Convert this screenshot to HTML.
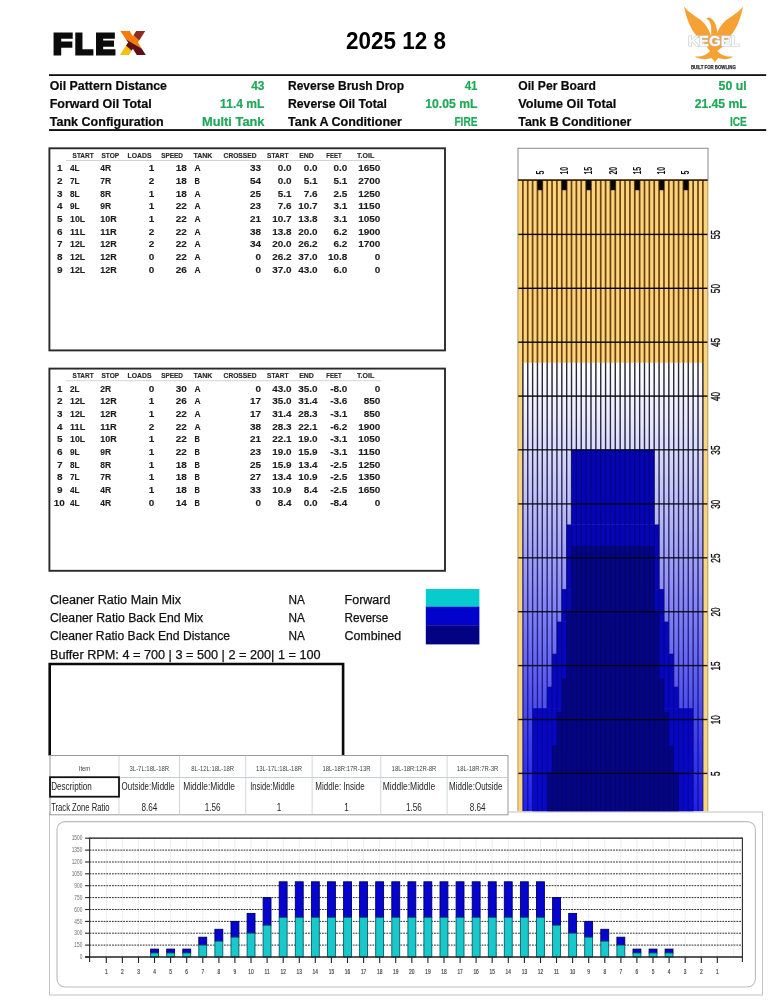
<!DOCTYPE html>
<html lang="en"><head><meta charset="utf-8"><title>FLEX Oil Pattern 2025 12 8</title>
<style>html,body{margin:0;padding:0;background:#fff;}body{width:772px;height:1000px;overflow:hidden;font-family:"Liberation Sans", sans-serif;}svg{display:block}</style>
</head><body>
<svg width="772" height="1000" viewBox="0 0 772 1000" font-family='"Liberation Sans", sans-serif'>
<rect width="772" height="1000" fill="#fff"/>
<defs><pattern id="xp" patternUnits="userSpaceOnUse" x="0" y="0" width="772" height="100"><rect x="110" y="20" width="50" height="50" fill="#5e0f1a"/><polygon points="110,20 160,20 160,59.2 110,30.2" fill="#f57c08"/><polygon points="128,30 150,30 150,43.3 142.5,43.3" fill="#8e2b22"/><polygon points="116,43.1 123.1,43.1 137.8,56 116,56" fill="#f6be12"/></pattern></defs>
<text font-size="30" font-weight="bold" fill="#0c0c0c" stroke="#0c0c0c" stroke-width="2.96" stroke-linejoin="miter"><tspan x="53.07" y="53.57" textLength="19.31" lengthAdjust="spacingAndGlyphs">F</tspan><tspan x="74.69" y="53.57" textLength="18.14" lengthAdjust="spacingAndGlyphs">L</tspan><tspan x="95.41" y="53.57" textLength="19.67" lengthAdjust="spacingAndGlyphs">E</tspan><tspan x="123.2" y="53.1" font-size="29.2" fill="url(#xp)" stroke="url(#xp)" stroke-width="4" textLength="19.2" lengthAdjust="spacingAndGlyphs">X</tspan></text>
<text x="396" y="49.2" font-size="23" font-weight="bold" fill="#000" text-anchor="middle" textLength="99.8" lengthAdjust="spacingAndGlyphs" >2025 12 8</text>
<rect x="49" y="74.2" width="717.2" height="1.8" fill="#111"/>
<rect x="49" y="129.1" width="717.2" height="1.9" fill="#111"/>
<text x="49.7" y="90.2" font-size="12.4" font-weight="bold" fill="#0a0a0a" stroke="#0a0a0a" stroke-width="0.2" textLength="117.3" lengthAdjust="spacingAndGlyphs">Oil Pattern Distance</text>
<text x="251.2" y="90.2" font-size="12.4" font-weight="bold" fill="#1fa857" stroke="#1fa857" stroke-width="0.2" textLength="13.3" lengthAdjust="spacingAndGlyphs">43</text>
<text x="288" y="90.2" font-size="12.4" font-weight="bold" fill="#0a0a0a" stroke="#0a0a0a" stroke-width="0.2" textLength="116" lengthAdjust="spacingAndGlyphs">Reverse Brush Drop</text>
<text x="464.7" y="90.2" font-size="12.4" font-weight="bold" fill="#1fa857" stroke="#1fa857" stroke-width="0.2" textLength="12.8" lengthAdjust="spacingAndGlyphs">41</text>
<text x="518.3" y="90.2" font-size="12.4" font-weight="bold" fill="#0a0a0a" stroke="#0a0a0a" stroke-width="0.2" textLength="77.5" lengthAdjust="spacingAndGlyphs">Oil Per Board</text>
<text x="718.6" y="90.2" font-size="12.4" font-weight="bold" fill="#1fa857" stroke="#1fa857" stroke-width="0.2" textLength="28.2" lengthAdjust="spacingAndGlyphs">50 ul</text>
<text x="49.7" y="108.3" font-size="12.4" font-weight="bold" fill="#0a0a0a" stroke="#0a0a0a" stroke-width="0.2" textLength="102" lengthAdjust="spacingAndGlyphs">Forward Oil Total</text>
<text x="220.1" y="108.3" font-size="12.4" font-weight="bold" fill="#1fa857" stroke="#1fa857" stroke-width="0.2" textLength="44.4" lengthAdjust="spacingAndGlyphs">11.4 mL</text>
<text x="288" y="108.3" font-size="12.4" font-weight="bold" fill="#0a0a0a" stroke="#0a0a0a" stroke-width="0.2" textLength="98.9" lengthAdjust="spacingAndGlyphs">Reverse Oil Total</text>
<text x="425.3" y="108.3" font-size="12.4" font-weight="bold" fill="#1fa857" stroke="#1fa857" stroke-width="0.2" textLength="52.2" lengthAdjust="spacingAndGlyphs">10.05 mL</text>
<text x="518.3" y="108.3" font-size="12.4" font-weight="bold" fill="#0a0a0a" stroke="#0a0a0a" stroke-width="0.2" textLength="98" lengthAdjust="spacingAndGlyphs">Volume Oil Total</text>
<text x="694.7" y="108.3" font-size="12.4" font-weight="bold" fill="#1fa857" stroke="#1fa857" stroke-width="0.2" textLength="52.1" lengthAdjust="spacingAndGlyphs">21.45 mL</text>
<text x="49.7" y="126.1" font-size="12.4" font-weight="bold" fill="#0a0a0a" stroke="#0a0a0a" stroke-width="0.2" textLength="114" lengthAdjust="spacingAndGlyphs">Tank Configuration</text>
<text x="202.0" y="126.1" font-size="12.4" font-weight="bold" fill="#1fa857" stroke="#1fa857" stroke-width="0.2" textLength="62.5" lengthAdjust="spacingAndGlyphs">Multi Tank</text>
<text x="288" y="126.1" font-size="12.4" font-weight="bold" fill="#0a0a0a" stroke="#0a0a0a" stroke-width="0.2" textLength="114" lengthAdjust="spacingAndGlyphs">Tank A Conditioner</text>
<text x="454.4" y="126.1" font-size="12.4" font-weight="bold" fill="#1fa857" stroke="#1fa857" stroke-width="0.2" textLength="23.1" lengthAdjust="spacingAndGlyphs">FIRE</text>
<text x="518.3" y="126.1" font-size="12.4" font-weight="bold" fill="#0a0a0a" stroke="#0a0a0a" stroke-width="0.2" textLength="113.1" lengthAdjust="spacingAndGlyphs">Tank B Conditioner</text>
<text x="729.9" y="126.1" font-size="12.4" font-weight="bold" fill="#1fa857" stroke="#1fa857" stroke-width="0.2" textLength="16.9" lengthAdjust="spacingAndGlyphs">ICE</text>
<g transform="translate(680,0) scale(0.09066)">
<path d="M45,72 C75,115 150,170 205,203 C262,240 312,300 340,390 L178,390 C118,320 68,200 45,72 Z" fill="#f5a133"/>
<path d="M695,72 C665,115 590,170 535,203 C478,240 428,300 400,390 L562,390 C622,320 672,200 695,72 Z" fill="#f5a133"/>
<path d="M288,207 C300,193 332,188 352,212 C388,240 407,290 416,390 L344,390 C346,330 346,292 336,264 C330,236 314,216 288,207 Z" fill="#f5a133"/>
<path d="M178,388 L562,388 C520,440 490,480 470,512 C445,540 410,553 415,565 C455,610 530,635 582,620 C550,662 470,657 425,641 C405,655 392,675 385,694 C378,675 365,655 345,641 C300,657 220,662 163,620 C220,635 290,610 330,565 C335,553 300,540 300,512 C270,480 230,440 178,388 Z" fill="#f5a133"/>
</g>
<text x="687.9" y="46.2" font-size="14.5" font-weight="bold" fill="#fbfbfb" stroke="#c3c9cf" stroke-width="1.1" paint-order="stroke" textLength="52.2" lengthAdjust="spacingAndGlyphs">KEGEL</text>
<text x="690.9" y="68.5" font-size="5.3" font-weight="bold" fill="#2b2b33" stroke="#2b2b33" stroke-width="0.25" textLength="44.9" lengthAdjust="spacingAndGlyphs">BUILT FOR BOWLING</text>
<rect x="49.4" y="148.3" width="395.6" height="202.09999999999997" fill="#fff" stroke="#2a2a2a" stroke-width="1.9"/>
<text x="72.6" y="157.50" font-size="6.7" font-weight="bold" fill="#2a2a2a" stroke="#2a2a2a" stroke-width="0.15" textLength="21.0" lengthAdjust="spacingAndGlyphs">START</text>
<text x="101.4" y="157.50" font-size="6.7" font-weight="bold" fill="#2a2a2a" stroke="#2a2a2a" stroke-width="0.15" textLength="17.8" lengthAdjust="spacingAndGlyphs">STOP</text>
<text x="127.5" y="157.50" font-size="6.7" font-weight="bold" fill="#2a2a2a" stroke="#2a2a2a" stroke-width="0.15" textLength="24.0" lengthAdjust="spacingAndGlyphs">LOADS</text>
<text x="161.2" y="157.50" font-size="6.7" font-weight="bold" fill="#2a2a2a" stroke="#2a2a2a" stroke-width="0.15" textLength="21.8" lengthAdjust="spacingAndGlyphs">SPEED</text>
<text x="193.4" y="157.50" font-size="6.7" font-weight="bold" fill="#2a2a2a" stroke="#2a2a2a" stroke-width="0.15" textLength="19.0" lengthAdjust="spacingAndGlyphs">TANK</text>
<text x="223.6" y="157.50" font-size="6.7" font-weight="bold" fill="#2a2a2a" stroke="#2a2a2a" stroke-width="0.15" textLength="32.9" lengthAdjust="spacingAndGlyphs">CROSSED</text>
<text x="267" y="157.50" font-size="6.7" font-weight="bold" fill="#2a2a2a" stroke="#2a2a2a" stroke-width="0.15" textLength="21.5" lengthAdjust="spacingAndGlyphs">START</text>
<text x="299.2" y="157.50" font-size="6.7" font-weight="bold" fill="#2a2a2a" stroke="#2a2a2a" stroke-width="0.15" textLength="14.7" lengthAdjust="spacingAndGlyphs">END</text>
<text x="326.3" y="157.50" font-size="6.7" font-weight="bold" fill="#2a2a2a" stroke="#2a2a2a" stroke-width="0.15" textLength="15.4" lengthAdjust="spacingAndGlyphs">FEET</text>
<text x="357" y="157.50" font-size="6.7" font-weight="bold" fill="#2a2a2a" stroke="#2a2a2a" stroke-width="0.15" textLength="17.2" lengthAdjust="spacingAndGlyphs">T.OIL</text>
<rect x="66" y="160.0" width="315" height="0.9" fill="#cfcfcf"/>
<text x="57.05" y="171.40" font-size="8.7" font-weight="bold" fill="#1c1c1c" stroke="#1c1c1c" stroke-width="0.12" textLength="5.55" lengthAdjust="spacingAndGlyphs">1</text>
<text x="70.00" y="171.40" font-size="8.7" font-weight="bold" fill="#1c1c1c" stroke="#1c1c1c" stroke-width="0.12" textLength="9.65" lengthAdjust="spacingAndGlyphs">4L</text>
<text x="100.30" y="171.40" font-size="8.7" font-weight="bold" fill="#1c1c1c" stroke="#1c1c1c" stroke-width="0.12" textLength="10.85" lengthAdjust="spacingAndGlyphs">4R</text>
<text x="148.75" y="171.40" font-size="8.7" font-weight="bold" fill="#1c1c1c" stroke="#1c1c1c" stroke-width="0.12" textLength="5.55" lengthAdjust="spacingAndGlyphs">1</text>
<text x="175.70" y="171.40" font-size="8.7" font-weight="bold" fill="#1c1c1c" stroke="#1c1c1c" stroke-width="0.12" textLength="11.10" lengthAdjust="spacingAndGlyphs">18</text>
<text x="194.40" y="171.40" font-size="8.7" font-weight="bold" fill="#1c1c1c" stroke="#1c1c1c" stroke-width="0.12" textLength="6.10" lengthAdjust="spacingAndGlyphs">A</text>
<text x="249.90" y="171.40" font-size="8.7" font-weight="bold" fill="#1c1c1c" stroke="#1c1c1c" stroke-width="0.12" textLength="11.10" lengthAdjust="spacingAndGlyphs">33</text>
<text x="277.80" y="171.40" font-size="8.7" font-weight="bold" fill="#1c1c1c" stroke="#1c1c1c" stroke-width="0.12" textLength="13.80" lengthAdjust="spacingAndGlyphs">0.0</text>
<text x="303.70" y="171.40" font-size="8.7" font-weight="bold" fill="#1c1c1c" stroke="#1c1c1c" stroke-width="0.12" textLength="13.80" lengthAdjust="spacingAndGlyphs">0.0</text>
<text x="333.60" y="171.40" font-size="8.7" font-weight="bold" fill="#1c1c1c" stroke="#1c1c1c" stroke-width="0.12" textLength="13.80" lengthAdjust="spacingAndGlyphs">0.0</text>
<text x="358.20" y="171.40" font-size="8.7" font-weight="bold" fill="#1c1c1c" stroke="#1c1c1c" stroke-width="0.12" textLength="22.20" lengthAdjust="spacingAndGlyphs">1650</text>
<text x="57.05" y="184.08" font-size="8.7" font-weight="bold" fill="#1c1c1c" stroke="#1c1c1c" stroke-width="0.12" textLength="5.55" lengthAdjust="spacingAndGlyphs">2</text>
<text x="70.00" y="184.08" font-size="8.7" font-weight="bold" fill="#1c1c1c" stroke="#1c1c1c" stroke-width="0.12" textLength="9.65" lengthAdjust="spacingAndGlyphs">7L</text>
<text x="100.30" y="184.08" font-size="8.7" font-weight="bold" fill="#1c1c1c" stroke="#1c1c1c" stroke-width="0.12" textLength="10.85" lengthAdjust="spacingAndGlyphs">7R</text>
<text x="148.75" y="184.08" font-size="8.7" font-weight="bold" fill="#1c1c1c" stroke="#1c1c1c" stroke-width="0.12" textLength="5.55" lengthAdjust="spacingAndGlyphs">2</text>
<text x="175.70" y="184.08" font-size="8.7" font-weight="bold" fill="#1c1c1c" stroke="#1c1c1c" stroke-width="0.12" textLength="11.10" lengthAdjust="spacingAndGlyphs">18</text>
<text x="194.40" y="184.08" font-size="8.7" font-weight="bold" fill="#1c1c1c" stroke="#1c1c1c" stroke-width="0.12" textLength="5.40" lengthAdjust="spacingAndGlyphs">B</text>
<text x="249.90" y="184.08" font-size="8.7" font-weight="bold" fill="#1c1c1c" stroke="#1c1c1c" stroke-width="0.12" textLength="11.10" lengthAdjust="spacingAndGlyphs">54</text>
<text x="277.80" y="184.08" font-size="8.7" font-weight="bold" fill="#1c1c1c" stroke="#1c1c1c" stroke-width="0.12" textLength="13.80" lengthAdjust="spacingAndGlyphs">0.0</text>
<text x="303.70" y="184.08" font-size="8.7" font-weight="bold" fill="#1c1c1c" stroke="#1c1c1c" stroke-width="0.12" textLength="13.80" lengthAdjust="spacingAndGlyphs">5.1</text>
<text x="333.60" y="184.08" font-size="8.7" font-weight="bold" fill="#1c1c1c" stroke="#1c1c1c" stroke-width="0.12" textLength="13.80" lengthAdjust="spacingAndGlyphs">5.1</text>
<text x="358.20" y="184.08" font-size="8.7" font-weight="bold" fill="#1c1c1c" stroke="#1c1c1c" stroke-width="0.12" textLength="22.20" lengthAdjust="spacingAndGlyphs">2700</text>
<text x="57.05" y="196.76" font-size="8.7" font-weight="bold" fill="#1c1c1c" stroke="#1c1c1c" stroke-width="0.12" textLength="5.55" lengthAdjust="spacingAndGlyphs">3</text>
<text x="70.00" y="196.76" font-size="8.7" font-weight="bold" fill="#1c1c1c" stroke="#1c1c1c" stroke-width="0.12" textLength="9.65" lengthAdjust="spacingAndGlyphs">8L</text>
<text x="100.30" y="196.76" font-size="8.7" font-weight="bold" fill="#1c1c1c" stroke="#1c1c1c" stroke-width="0.12" textLength="10.85" lengthAdjust="spacingAndGlyphs">8R</text>
<text x="148.75" y="196.76" font-size="8.7" font-weight="bold" fill="#1c1c1c" stroke="#1c1c1c" stroke-width="0.12" textLength="5.55" lengthAdjust="spacingAndGlyphs">1</text>
<text x="175.70" y="196.76" font-size="8.7" font-weight="bold" fill="#1c1c1c" stroke="#1c1c1c" stroke-width="0.12" textLength="11.10" lengthAdjust="spacingAndGlyphs">18</text>
<text x="194.40" y="196.76" font-size="8.7" font-weight="bold" fill="#1c1c1c" stroke="#1c1c1c" stroke-width="0.12" textLength="6.10" lengthAdjust="spacingAndGlyphs">A</text>
<text x="249.90" y="196.76" font-size="8.7" font-weight="bold" fill="#1c1c1c" stroke="#1c1c1c" stroke-width="0.12" textLength="11.10" lengthAdjust="spacingAndGlyphs">25</text>
<text x="277.80" y="196.76" font-size="8.7" font-weight="bold" fill="#1c1c1c" stroke="#1c1c1c" stroke-width="0.12" textLength="13.80" lengthAdjust="spacingAndGlyphs">5.1</text>
<text x="303.70" y="196.76" font-size="8.7" font-weight="bold" fill="#1c1c1c" stroke="#1c1c1c" stroke-width="0.12" textLength="13.80" lengthAdjust="spacingAndGlyphs">7.6</text>
<text x="333.60" y="196.76" font-size="8.7" font-weight="bold" fill="#1c1c1c" stroke="#1c1c1c" stroke-width="0.12" textLength="13.80" lengthAdjust="spacingAndGlyphs">2.5</text>
<text x="358.20" y="196.76" font-size="8.7" font-weight="bold" fill="#1c1c1c" stroke="#1c1c1c" stroke-width="0.12" textLength="22.20" lengthAdjust="spacingAndGlyphs">1250</text>
<text x="57.05" y="209.44" font-size="8.7" font-weight="bold" fill="#1c1c1c" stroke="#1c1c1c" stroke-width="0.12" textLength="5.55" lengthAdjust="spacingAndGlyphs">4</text>
<text x="70.00" y="209.44" font-size="8.7" font-weight="bold" fill="#1c1c1c" stroke="#1c1c1c" stroke-width="0.12" textLength="9.65" lengthAdjust="spacingAndGlyphs">9L</text>
<text x="100.30" y="209.44" font-size="8.7" font-weight="bold" fill="#1c1c1c" stroke="#1c1c1c" stroke-width="0.12" textLength="10.85" lengthAdjust="spacingAndGlyphs">9R</text>
<text x="148.75" y="209.44" font-size="8.7" font-weight="bold" fill="#1c1c1c" stroke="#1c1c1c" stroke-width="0.12" textLength="5.55" lengthAdjust="spacingAndGlyphs">1</text>
<text x="175.70" y="209.44" font-size="8.7" font-weight="bold" fill="#1c1c1c" stroke="#1c1c1c" stroke-width="0.12" textLength="11.10" lengthAdjust="spacingAndGlyphs">22</text>
<text x="194.40" y="209.44" font-size="8.7" font-weight="bold" fill="#1c1c1c" stroke="#1c1c1c" stroke-width="0.12" textLength="6.10" lengthAdjust="spacingAndGlyphs">A</text>
<text x="249.90" y="209.44" font-size="8.7" font-weight="bold" fill="#1c1c1c" stroke="#1c1c1c" stroke-width="0.12" textLength="11.10" lengthAdjust="spacingAndGlyphs">23</text>
<text x="277.80" y="209.44" font-size="8.7" font-weight="bold" fill="#1c1c1c" stroke="#1c1c1c" stroke-width="0.12" textLength="13.80" lengthAdjust="spacingAndGlyphs">7.6</text>
<text x="298.15" y="209.44" font-size="8.7" font-weight="bold" fill="#1c1c1c" stroke="#1c1c1c" stroke-width="0.12" textLength="19.35" lengthAdjust="spacingAndGlyphs">10.7</text>
<text x="333.60" y="209.44" font-size="8.7" font-weight="bold" fill="#1c1c1c" stroke="#1c1c1c" stroke-width="0.12" textLength="13.80" lengthAdjust="spacingAndGlyphs">3.1</text>
<text x="358.20" y="209.44" font-size="8.7" font-weight="bold" fill="#1c1c1c" stroke="#1c1c1c" stroke-width="0.12" textLength="22.20" lengthAdjust="spacingAndGlyphs">1150</text>
<text x="57.05" y="222.12" font-size="8.7" font-weight="bold" fill="#1c1c1c" stroke="#1c1c1c" stroke-width="0.12" textLength="5.55" lengthAdjust="spacingAndGlyphs">5</text>
<text x="70.00" y="222.12" font-size="8.7" font-weight="bold" fill="#1c1c1c" stroke="#1c1c1c" stroke-width="0.12" textLength="15.20" lengthAdjust="spacingAndGlyphs">10L</text>
<text x="100.30" y="222.12" font-size="8.7" font-weight="bold" fill="#1c1c1c" stroke="#1c1c1c" stroke-width="0.12" textLength="16.40" lengthAdjust="spacingAndGlyphs">10R</text>
<text x="148.75" y="222.12" font-size="8.7" font-weight="bold" fill="#1c1c1c" stroke="#1c1c1c" stroke-width="0.12" textLength="5.55" lengthAdjust="spacingAndGlyphs">1</text>
<text x="175.70" y="222.12" font-size="8.7" font-weight="bold" fill="#1c1c1c" stroke="#1c1c1c" stroke-width="0.12" textLength="11.10" lengthAdjust="spacingAndGlyphs">22</text>
<text x="194.40" y="222.12" font-size="8.7" font-weight="bold" fill="#1c1c1c" stroke="#1c1c1c" stroke-width="0.12" textLength="6.10" lengthAdjust="spacingAndGlyphs">A</text>
<text x="249.90" y="222.12" font-size="8.7" font-weight="bold" fill="#1c1c1c" stroke="#1c1c1c" stroke-width="0.12" textLength="11.10" lengthAdjust="spacingAndGlyphs">21</text>
<text x="272.25" y="222.12" font-size="8.7" font-weight="bold" fill="#1c1c1c" stroke="#1c1c1c" stroke-width="0.12" textLength="19.35" lengthAdjust="spacingAndGlyphs">10.7</text>
<text x="298.15" y="222.12" font-size="8.7" font-weight="bold" fill="#1c1c1c" stroke="#1c1c1c" stroke-width="0.12" textLength="19.35" lengthAdjust="spacingAndGlyphs">13.8</text>
<text x="333.60" y="222.12" font-size="8.7" font-weight="bold" fill="#1c1c1c" stroke="#1c1c1c" stroke-width="0.12" textLength="13.80" lengthAdjust="spacingAndGlyphs">3.1</text>
<text x="358.20" y="222.12" font-size="8.7" font-weight="bold" fill="#1c1c1c" stroke="#1c1c1c" stroke-width="0.12" textLength="22.20" lengthAdjust="spacingAndGlyphs">1050</text>
<text x="57.05" y="234.80" font-size="8.7" font-weight="bold" fill="#1c1c1c" stroke="#1c1c1c" stroke-width="0.12" textLength="5.55" lengthAdjust="spacingAndGlyphs">6</text>
<text x="70.00" y="234.80" font-size="8.7" font-weight="bold" fill="#1c1c1c" stroke="#1c1c1c" stroke-width="0.12" textLength="15.20" lengthAdjust="spacingAndGlyphs">11L</text>
<text x="100.30" y="234.80" font-size="8.7" font-weight="bold" fill="#1c1c1c" stroke="#1c1c1c" stroke-width="0.12" textLength="16.40" lengthAdjust="spacingAndGlyphs">11R</text>
<text x="148.75" y="234.80" font-size="8.7" font-weight="bold" fill="#1c1c1c" stroke="#1c1c1c" stroke-width="0.12" textLength="5.55" lengthAdjust="spacingAndGlyphs">2</text>
<text x="175.70" y="234.80" font-size="8.7" font-weight="bold" fill="#1c1c1c" stroke="#1c1c1c" stroke-width="0.12" textLength="11.10" lengthAdjust="spacingAndGlyphs">22</text>
<text x="194.40" y="234.80" font-size="8.7" font-weight="bold" fill="#1c1c1c" stroke="#1c1c1c" stroke-width="0.12" textLength="6.10" lengthAdjust="spacingAndGlyphs">A</text>
<text x="249.90" y="234.80" font-size="8.7" font-weight="bold" fill="#1c1c1c" stroke="#1c1c1c" stroke-width="0.12" textLength="11.10" lengthAdjust="spacingAndGlyphs">38</text>
<text x="272.25" y="234.80" font-size="8.7" font-weight="bold" fill="#1c1c1c" stroke="#1c1c1c" stroke-width="0.12" textLength="19.35" lengthAdjust="spacingAndGlyphs">13.8</text>
<text x="298.15" y="234.80" font-size="8.7" font-weight="bold" fill="#1c1c1c" stroke="#1c1c1c" stroke-width="0.12" textLength="19.35" lengthAdjust="spacingAndGlyphs">20.0</text>
<text x="333.60" y="234.80" font-size="8.7" font-weight="bold" fill="#1c1c1c" stroke="#1c1c1c" stroke-width="0.12" textLength="13.80" lengthAdjust="spacingAndGlyphs">6.2</text>
<text x="358.20" y="234.80" font-size="8.7" font-weight="bold" fill="#1c1c1c" stroke="#1c1c1c" stroke-width="0.12" textLength="22.20" lengthAdjust="spacingAndGlyphs">1900</text>
<text x="57.05" y="247.48" font-size="8.7" font-weight="bold" fill="#1c1c1c" stroke="#1c1c1c" stroke-width="0.12" textLength="5.55" lengthAdjust="spacingAndGlyphs">7</text>
<text x="70.00" y="247.48" font-size="8.7" font-weight="bold" fill="#1c1c1c" stroke="#1c1c1c" stroke-width="0.12" textLength="15.20" lengthAdjust="spacingAndGlyphs">12L</text>
<text x="100.30" y="247.48" font-size="8.7" font-weight="bold" fill="#1c1c1c" stroke="#1c1c1c" stroke-width="0.12" textLength="16.40" lengthAdjust="spacingAndGlyphs">12R</text>
<text x="148.75" y="247.48" font-size="8.7" font-weight="bold" fill="#1c1c1c" stroke="#1c1c1c" stroke-width="0.12" textLength="5.55" lengthAdjust="spacingAndGlyphs">2</text>
<text x="175.70" y="247.48" font-size="8.7" font-weight="bold" fill="#1c1c1c" stroke="#1c1c1c" stroke-width="0.12" textLength="11.10" lengthAdjust="spacingAndGlyphs">22</text>
<text x="194.40" y="247.48" font-size="8.7" font-weight="bold" fill="#1c1c1c" stroke="#1c1c1c" stroke-width="0.12" textLength="6.10" lengthAdjust="spacingAndGlyphs">A</text>
<text x="249.90" y="247.48" font-size="8.7" font-weight="bold" fill="#1c1c1c" stroke="#1c1c1c" stroke-width="0.12" textLength="11.10" lengthAdjust="spacingAndGlyphs">34</text>
<text x="272.25" y="247.48" font-size="8.7" font-weight="bold" fill="#1c1c1c" stroke="#1c1c1c" stroke-width="0.12" textLength="19.35" lengthAdjust="spacingAndGlyphs">20.0</text>
<text x="298.15" y="247.48" font-size="8.7" font-weight="bold" fill="#1c1c1c" stroke="#1c1c1c" stroke-width="0.12" textLength="19.35" lengthAdjust="spacingAndGlyphs">26.2</text>
<text x="333.60" y="247.48" font-size="8.7" font-weight="bold" fill="#1c1c1c" stroke="#1c1c1c" stroke-width="0.12" textLength="13.80" lengthAdjust="spacingAndGlyphs">6.2</text>
<text x="358.20" y="247.48" font-size="8.7" font-weight="bold" fill="#1c1c1c" stroke="#1c1c1c" stroke-width="0.12" textLength="22.20" lengthAdjust="spacingAndGlyphs">1700</text>
<text x="57.05" y="260.16" font-size="8.7" font-weight="bold" fill="#1c1c1c" stroke="#1c1c1c" stroke-width="0.12" textLength="5.55" lengthAdjust="spacingAndGlyphs">8</text>
<text x="70.00" y="260.16" font-size="8.7" font-weight="bold" fill="#1c1c1c" stroke="#1c1c1c" stroke-width="0.12" textLength="15.20" lengthAdjust="spacingAndGlyphs">12L</text>
<text x="100.30" y="260.16" font-size="8.7" font-weight="bold" fill="#1c1c1c" stroke="#1c1c1c" stroke-width="0.12" textLength="16.40" lengthAdjust="spacingAndGlyphs">12R</text>
<text x="148.75" y="260.16" font-size="8.7" font-weight="bold" fill="#1c1c1c" stroke="#1c1c1c" stroke-width="0.12" textLength="5.55" lengthAdjust="spacingAndGlyphs">0</text>
<text x="175.70" y="260.16" font-size="8.7" font-weight="bold" fill="#1c1c1c" stroke="#1c1c1c" stroke-width="0.12" textLength="11.10" lengthAdjust="spacingAndGlyphs">22</text>
<text x="194.40" y="260.16" font-size="8.7" font-weight="bold" fill="#1c1c1c" stroke="#1c1c1c" stroke-width="0.12" textLength="6.10" lengthAdjust="spacingAndGlyphs">A</text>
<text x="255.45" y="260.16" font-size="8.7" font-weight="bold" fill="#1c1c1c" stroke="#1c1c1c" stroke-width="0.12" textLength="5.55" lengthAdjust="spacingAndGlyphs">0</text>
<text x="272.25" y="260.16" font-size="8.7" font-weight="bold" fill="#1c1c1c" stroke="#1c1c1c" stroke-width="0.12" textLength="19.35" lengthAdjust="spacingAndGlyphs">26.2</text>
<text x="298.15" y="260.16" font-size="8.7" font-weight="bold" fill="#1c1c1c" stroke="#1c1c1c" stroke-width="0.12" textLength="19.35" lengthAdjust="spacingAndGlyphs">37.0</text>
<text x="328.05" y="260.16" font-size="8.7" font-weight="bold" fill="#1c1c1c" stroke="#1c1c1c" stroke-width="0.12" textLength="19.35" lengthAdjust="spacingAndGlyphs">10.8</text>
<text x="374.85" y="260.16" font-size="8.7" font-weight="bold" fill="#1c1c1c" stroke="#1c1c1c" stroke-width="0.12" textLength="5.55" lengthAdjust="spacingAndGlyphs">0</text>
<text x="57.05" y="272.84" font-size="8.7" font-weight="bold" fill="#1c1c1c" stroke="#1c1c1c" stroke-width="0.12" textLength="5.55" lengthAdjust="spacingAndGlyphs">9</text>
<text x="70.00" y="272.84" font-size="8.7" font-weight="bold" fill="#1c1c1c" stroke="#1c1c1c" stroke-width="0.12" textLength="15.20" lengthAdjust="spacingAndGlyphs">12L</text>
<text x="100.30" y="272.84" font-size="8.7" font-weight="bold" fill="#1c1c1c" stroke="#1c1c1c" stroke-width="0.12" textLength="16.40" lengthAdjust="spacingAndGlyphs">12R</text>
<text x="148.75" y="272.84" font-size="8.7" font-weight="bold" fill="#1c1c1c" stroke="#1c1c1c" stroke-width="0.12" textLength="5.55" lengthAdjust="spacingAndGlyphs">0</text>
<text x="175.70" y="272.84" font-size="8.7" font-weight="bold" fill="#1c1c1c" stroke="#1c1c1c" stroke-width="0.12" textLength="11.10" lengthAdjust="spacingAndGlyphs">26</text>
<text x="194.40" y="272.84" font-size="8.7" font-weight="bold" fill="#1c1c1c" stroke="#1c1c1c" stroke-width="0.12" textLength="6.10" lengthAdjust="spacingAndGlyphs">A</text>
<text x="255.45" y="272.84" font-size="8.7" font-weight="bold" fill="#1c1c1c" stroke="#1c1c1c" stroke-width="0.12" textLength="5.55" lengthAdjust="spacingAndGlyphs">0</text>
<text x="272.25" y="272.84" font-size="8.7" font-weight="bold" fill="#1c1c1c" stroke="#1c1c1c" stroke-width="0.12" textLength="19.35" lengthAdjust="spacingAndGlyphs">37.0</text>
<text x="298.15" y="272.84" font-size="8.7" font-weight="bold" fill="#1c1c1c" stroke="#1c1c1c" stroke-width="0.12" textLength="19.35" lengthAdjust="spacingAndGlyphs">43.0</text>
<text x="333.60" y="272.84" font-size="8.7" font-weight="bold" fill="#1c1c1c" stroke="#1c1c1c" stroke-width="0.12" textLength="13.80" lengthAdjust="spacingAndGlyphs">6.0</text>
<text x="374.85" y="272.84" font-size="8.7" font-weight="bold" fill="#1c1c1c" stroke="#1c1c1c" stroke-width="0.12" textLength="5.55" lengthAdjust="spacingAndGlyphs">0</text>
<rect x="49.4" y="368.6" width="395.6" height="202.19999999999993" fill="#fff" stroke="#2a2a2a" stroke-width="1.9"/>
<text x="72.6" y="377.80" font-size="6.7" font-weight="bold" fill="#2a2a2a" stroke="#2a2a2a" stroke-width="0.15" textLength="21.0" lengthAdjust="spacingAndGlyphs">START</text>
<text x="101.4" y="377.80" font-size="6.7" font-weight="bold" fill="#2a2a2a" stroke="#2a2a2a" stroke-width="0.15" textLength="17.8" lengthAdjust="spacingAndGlyphs">STOP</text>
<text x="127.5" y="377.80" font-size="6.7" font-weight="bold" fill="#2a2a2a" stroke="#2a2a2a" stroke-width="0.15" textLength="24.0" lengthAdjust="spacingAndGlyphs">LOADS</text>
<text x="161.2" y="377.80" font-size="6.7" font-weight="bold" fill="#2a2a2a" stroke="#2a2a2a" stroke-width="0.15" textLength="21.8" lengthAdjust="spacingAndGlyphs">SPEED</text>
<text x="193.4" y="377.80" font-size="6.7" font-weight="bold" fill="#2a2a2a" stroke="#2a2a2a" stroke-width="0.15" textLength="19.0" lengthAdjust="spacingAndGlyphs">TANK</text>
<text x="223.6" y="377.80" font-size="6.7" font-weight="bold" fill="#2a2a2a" stroke="#2a2a2a" stroke-width="0.15" textLength="32.9" lengthAdjust="spacingAndGlyphs">CROSSED</text>
<text x="267" y="377.80" font-size="6.7" font-weight="bold" fill="#2a2a2a" stroke="#2a2a2a" stroke-width="0.15" textLength="21.5" lengthAdjust="spacingAndGlyphs">START</text>
<text x="299.2" y="377.80" font-size="6.7" font-weight="bold" fill="#2a2a2a" stroke="#2a2a2a" stroke-width="0.15" textLength="14.7" lengthAdjust="spacingAndGlyphs">END</text>
<text x="326.3" y="377.80" font-size="6.7" font-weight="bold" fill="#2a2a2a" stroke="#2a2a2a" stroke-width="0.15" textLength="15.4" lengthAdjust="spacingAndGlyphs">FEET</text>
<text x="357" y="377.80" font-size="6.7" font-weight="bold" fill="#2a2a2a" stroke="#2a2a2a" stroke-width="0.15" textLength="17.2" lengthAdjust="spacingAndGlyphs">T.OIL</text>
<rect x="66" y="380.3" width="315" height="0.9" fill="#cfcfcf"/>
<text x="57.05" y="391.70" font-size="8.7" font-weight="bold" fill="#1c1c1c" stroke="#1c1c1c" stroke-width="0.12" textLength="5.55" lengthAdjust="spacingAndGlyphs">1</text>
<text x="70.00" y="391.70" font-size="8.7" font-weight="bold" fill="#1c1c1c" stroke="#1c1c1c" stroke-width="0.12" textLength="9.65" lengthAdjust="spacingAndGlyphs">2L</text>
<text x="100.30" y="391.70" font-size="8.7" font-weight="bold" fill="#1c1c1c" stroke="#1c1c1c" stroke-width="0.12" textLength="10.85" lengthAdjust="spacingAndGlyphs">2R</text>
<text x="148.75" y="391.70" font-size="8.7" font-weight="bold" fill="#1c1c1c" stroke="#1c1c1c" stroke-width="0.12" textLength="5.55" lengthAdjust="spacingAndGlyphs">0</text>
<text x="175.70" y="391.70" font-size="8.7" font-weight="bold" fill="#1c1c1c" stroke="#1c1c1c" stroke-width="0.12" textLength="11.10" lengthAdjust="spacingAndGlyphs">30</text>
<text x="194.40" y="391.70" font-size="8.7" font-weight="bold" fill="#1c1c1c" stroke="#1c1c1c" stroke-width="0.12" textLength="6.10" lengthAdjust="spacingAndGlyphs">A</text>
<text x="255.45" y="391.70" font-size="8.7" font-weight="bold" fill="#1c1c1c" stroke="#1c1c1c" stroke-width="0.12" textLength="5.55" lengthAdjust="spacingAndGlyphs">0</text>
<text x="272.25" y="391.70" font-size="8.7" font-weight="bold" fill="#1c1c1c" stroke="#1c1c1c" stroke-width="0.12" textLength="19.35" lengthAdjust="spacingAndGlyphs">43.0</text>
<text x="298.15" y="391.70" font-size="8.7" font-weight="bold" fill="#1c1c1c" stroke="#1c1c1c" stroke-width="0.12" textLength="19.35" lengthAdjust="spacingAndGlyphs">35.0</text>
<text x="330.20" y="391.70" font-size="8.7" font-weight="bold" fill="#1c1c1c" stroke="#1c1c1c" stroke-width="0.12" textLength="17.20" lengthAdjust="spacingAndGlyphs">-8.0</text>
<text x="374.85" y="391.70" font-size="8.7" font-weight="bold" fill="#1c1c1c" stroke="#1c1c1c" stroke-width="0.12" textLength="5.55" lengthAdjust="spacingAndGlyphs">0</text>
<text x="57.05" y="404.38" font-size="8.7" font-weight="bold" fill="#1c1c1c" stroke="#1c1c1c" stroke-width="0.12" textLength="5.55" lengthAdjust="spacingAndGlyphs">2</text>
<text x="70.00" y="404.38" font-size="8.7" font-weight="bold" fill="#1c1c1c" stroke="#1c1c1c" stroke-width="0.12" textLength="15.20" lengthAdjust="spacingAndGlyphs">12L</text>
<text x="100.30" y="404.38" font-size="8.7" font-weight="bold" fill="#1c1c1c" stroke="#1c1c1c" stroke-width="0.12" textLength="16.40" lengthAdjust="spacingAndGlyphs">12R</text>
<text x="148.75" y="404.38" font-size="8.7" font-weight="bold" fill="#1c1c1c" stroke="#1c1c1c" stroke-width="0.12" textLength="5.55" lengthAdjust="spacingAndGlyphs">1</text>
<text x="175.70" y="404.38" font-size="8.7" font-weight="bold" fill="#1c1c1c" stroke="#1c1c1c" stroke-width="0.12" textLength="11.10" lengthAdjust="spacingAndGlyphs">26</text>
<text x="194.40" y="404.38" font-size="8.7" font-weight="bold" fill="#1c1c1c" stroke="#1c1c1c" stroke-width="0.12" textLength="6.10" lengthAdjust="spacingAndGlyphs">A</text>
<text x="249.90" y="404.38" font-size="8.7" font-weight="bold" fill="#1c1c1c" stroke="#1c1c1c" stroke-width="0.12" textLength="11.10" lengthAdjust="spacingAndGlyphs">17</text>
<text x="272.25" y="404.38" font-size="8.7" font-weight="bold" fill="#1c1c1c" stroke="#1c1c1c" stroke-width="0.12" textLength="19.35" lengthAdjust="spacingAndGlyphs">35.0</text>
<text x="298.15" y="404.38" font-size="8.7" font-weight="bold" fill="#1c1c1c" stroke="#1c1c1c" stroke-width="0.12" textLength="19.35" lengthAdjust="spacingAndGlyphs">31.4</text>
<text x="330.20" y="404.38" font-size="8.7" font-weight="bold" fill="#1c1c1c" stroke="#1c1c1c" stroke-width="0.12" textLength="17.20" lengthAdjust="spacingAndGlyphs">-3.6</text>
<text x="363.75" y="404.38" font-size="8.7" font-weight="bold" fill="#1c1c1c" stroke="#1c1c1c" stroke-width="0.12" textLength="16.65" lengthAdjust="spacingAndGlyphs">850</text>
<text x="57.05" y="417.06" font-size="8.7" font-weight="bold" fill="#1c1c1c" stroke="#1c1c1c" stroke-width="0.12" textLength="5.55" lengthAdjust="spacingAndGlyphs">3</text>
<text x="70.00" y="417.06" font-size="8.7" font-weight="bold" fill="#1c1c1c" stroke="#1c1c1c" stroke-width="0.12" textLength="15.20" lengthAdjust="spacingAndGlyphs">12L</text>
<text x="100.30" y="417.06" font-size="8.7" font-weight="bold" fill="#1c1c1c" stroke="#1c1c1c" stroke-width="0.12" textLength="16.40" lengthAdjust="spacingAndGlyphs">12R</text>
<text x="148.75" y="417.06" font-size="8.7" font-weight="bold" fill="#1c1c1c" stroke="#1c1c1c" stroke-width="0.12" textLength="5.55" lengthAdjust="spacingAndGlyphs">1</text>
<text x="175.70" y="417.06" font-size="8.7" font-weight="bold" fill="#1c1c1c" stroke="#1c1c1c" stroke-width="0.12" textLength="11.10" lengthAdjust="spacingAndGlyphs">22</text>
<text x="194.40" y="417.06" font-size="8.7" font-weight="bold" fill="#1c1c1c" stroke="#1c1c1c" stroke-width="0.12" textLength="6.10" lengthAdjust="spacingAndGlyphs">A</text>
<text x="249.90" y="417.06" font-size="8.7" font-weight="bold" fill="#1c1c1c" stroke="#1c1c1c" stroke-width="0.12" textLength="11.10" lengthAdjust="spacingAndGlyphs">17</text>
<text x="272.25" y="417.06" font-size="8.7" font-weight="bold" fill="#1c1c1c" stroke="#1c1c1c" stroke-width="0.12" textLength="19.35" lengthAdjust="spacingAndGlyphs">31.4</text>
<text x="298.15" y="417.06" font-size="8.7" font-weight="bold" fill="#1c1c1c" stroke="#1c1c1c" stroke-width="0.12" textLength="19.35" lengthAdjust="spacingAndGlyphs">28.3</text>
<text x="330.20" y="417.06" font-size="8.7" font-weight="bold" fill="#1c1c1c" stroke="#1c1c1c" stroke-width="0.12" textLength="17.20" lengthAdjust="spacingAndGlyphs">-3.1</text>
<text x="363.75" y="417.06" font-size="8.7" font-weight="bold" fill="#1c1c1c" stroke="#1c1c1c" stroke-width="0.12" textLength="16.65" lengthAdjust="spacingAndGlyphs">850</text>
<text x="57.05" y="429.74" font-size="8.7" font-weight="bold" fill="#1c1c1c" stroke="#1c1c1c" stroke-width="0.12" textLength="5.55" lengthAdjust="spacingAndGlyphs">4</text>
<text x="70.00" y="429.74" font-size="8.7" font-weight="bold" fill="#1c1c1c" stroke="#1c1c1c" stroke-width="0.12" textLength="15.20" lengthAdjust="spacingAndGlyphs">11L</text>
<text x="100.30" y="429.74" font-size="8.7" font-weight="bold" fill="#1c1c1c" stroke="#1c1c1c" stroke-width="0.12" textLength="16.40" lengthAdjust="spacingAndGlyphs">11R</text>
<text x="148.75" y="429.74" font-size="8.7" font-weight="bold" fill="#1c1c1c" stroke="#1c1c1c" stroke-width="0.12" textLength="5.55" lengthAdjust="spacingAndGlyphs">2</text>
<text x="175.70" y="429.74" font-size="8.7" font-weight="bold" fill="#1c1c1c" stroke="#1c1c1c" stroke-width="0.12" textLength="11.10" lengthAdjust="spacingAndGlyphs">22</text>
<text x="194.40" y="429.74" font-size="8.7" font-weight="bold" fill="#1c1c1c" stroke="#1c1c1c" stroke-width="0.12" textLength="6.10" lengthAdjust="spacingAndGlyphs">A</text>
<text x="249.90" y="429.74" font-size="8.7" font-weight="bold" fill="#1c1c1c" stroke="#1c1c1c" stroke-width="0.12" textLength="11.10" lengthAdjust="spacingAndGlyphs">38</text>
<text x="272.25" y="429.74" font-size="8.7" font-weight="bold" fill="#1c1c1c" stroke="#1c1c1c" stroke-width="0.12" textLength="19.35" lengthAdjust="spacingAndGlyphs">28.3</text>
<text x="298.15" y="429.74" font-size="8.7" font-weight="bold" fill="#1c1c1c" stroke="#1c1c1c" stroke-width="0.12" textLength="19.35" lengthAdjust="spacingAndGlyphs">22.1</text>
<text x="330.20" y="429.74" font-size="8.7" font-weight="bold" fill="#1c1c1c" stroke="#1c1c1c" stroke-width="0.12" textLength="17.20" lengthAdjust="spacingAndGlyphs">-6.2</text>
<text x="358.20" y="429.74" font-size="8.7" font-weight="bold" fill="#1c1c1c" stroke="#1c1c1c" stroke-width="0.12" textLength="22.20" lengthAdjust="spacingAndGlyphs">1900</text>
<text x="57.05" y="442.42" font-size="8.7" font-weight="bold" fill="#1c1c1c" stroke="#1c1c1c" stroke-width="0.12" textLength="5.55" lengthAdjust="spacingAndGlyphs">5</text>
<text x="70.00" y="442.42" font-size="8.7" font-weight="bold" fill="#1c1c1c" stroke="#1c1c1c" stroke-width="0.12" textLength="15.20" lengthAdjust="spacingAndGlyphs">10L</text>
<text x="100.30" y="442.42" font-size="8.7" font-weight="bold" fill="#1c1c1c" stroke="#1c1c1c" stroke-width="0.12" textLength="16.40" lengthAdjust="spacingAndGlyphs">10R</text>
<text x="148.75" y="442.42" font-size="8.7" font-weight="bold" fill="#1c1c1c" stroke="#1c1c1c" stroke-width="0.12" textLength="5.55" lengthAdjust="spacingAndGlyphs">1</text>
<text x="175.70" y="442.42" font-size="8.7" font-weight="bold" fill="#1c1c1c" stroke="#1c1c1c" stroke-width="0.12" textLength="11.10" lengthAdjust="spacingAndGlyphs">22</text>
<text x="194.40" y="442.42" font-size="8.7" font-weight="bold" fill="#1c1c1c" stroke="#1c1c1c" stroke-width="0.12" textLength="5.40" lengthAdjust="spacingAndGlyphs">B</text>
<text x="249.90" y="442.42" font-size="8.7" font-weight="bold" fill="#1c1c1c" stroke="#1c1c1c" stroke-width="0.12" textLength="11.10" lengthAdjust="spacingAndGlyphs">21</text>
<text x="272.25" y="442.42" font-size="8.7" font-weight="bold" fill="#1c1c1c" stroke="#1c1c1c" stroke-width="0.12" textLength="19.35" lengthAdjust="spacingAndGlyphs">22.1</text>
<text x="298.15" y="442.42" font-size="8.7" font-weight="bold" fill="#1c1c1c" stroke="#1c1c1c" stroke-width="0.12" textLength="19.35" lengthAdjust="spacingAndGlyphs">19.0</text>
<text x="330.20" y="442.42" font-size="8.7" font-weight="bold" fill="#1c1c1c" stroke="#1c1c1c" stroke-width="0.12" textLength="17.20" lengthAdjust="spacingAndGlyphs">-3.1</text>
<text x="358.20" y="442.42" font-size="8.7" font-weight="bold" fill="#1c1c1c" stroke="#1c1c1c" stroke-width="0.12" textLength="22.20" lengthAdjust="spacingAndGlyphs">1050</text>
<text x="57.05" y="455.10" font-size="8.7" font-weight="bold" fill="#1c1c1c" stroke="#1c1c1c" stroke-width="0.12" textLength="5.55" lengthAdjust="spacingAndGlyphs">6</text>
<text x="70.00" y="455.10" font-size="8.7" font-weight="bold" fill="#1c1c1c" stroke="#1c1c1c" stroke-width="0.12" textLength="9.65" lengthAdjust="spacingAndGlyphs">9L</text>
<text x="100.30" y="455.10" font-size="8.7" font-weight="bold" fill="#1c1c1c" stroke="#1c1c1c" stroke-width="0.12" textLength="10.85" lengthAdjust="spacingAndGlyphs">9R</text>
<text x="148.75" y="455.10" font-size="8.7" font-weight="bold" fill="#1c1c1c" stroke="#1c1c1c" stroke-width="0.12" textLength="5.55" lengthAdjust="spacingAndGlyphs">1</text>
<text x="175.70" y="455.10" font-size="8.7" font-weight="bold" fill="#1c1c1c" stroke="#1c1c1c" stroke-width="0.12" textLength="11.10" lengthAdjust="spacingAndGlyphs">22</text>
<text x="194.40" y="455.10" font-size="8.7" font-weight="bold" fill="#1c1c1c" stroke="#1c1c1c" stroke-width="0.12" textLength="5.40" lengthAdjust="spacingAndGlyphs">B</text>
<text x="249.90" y="455.10" font-size="8.7" font-weight="bold" fill="#1c1c1c" stroke="#1c1c1c" stroke-width="0.12" textLength="11.10" lengthAdjust="spacingAndGlyphs">23</text>
<text x="272.25" y="455.10" font-size="8.7" font-weight="bold" fill="#1c1c1c" stroke="#1c1c1c" stroke-width="0.12" textLength="19.35" lengthAdjust="spacingAndGlyphs">19.0</text>
<text x="298.15" y="455.10" font-size="8.7" font-weight="bold" fill="#1c1c1c" stroke="#1c1c1c" stroke-width="0.12" textLength="19.35" lengthAdjust="spacingAndGlyphs">15.9</text>
<text x="330.20" y="455.10" font-size="8.7" font-weight="bold" fill="#1c1c1c" stroke="#1c1c1c" stroke-width="0.12" textLength="17.20" lengthAdjust="spacingAndGlyphs">-3.1</text>
<text x="358.20" y="455.10" font-size="8.7" font-weight="bold" fill="#1c1c1c" stroke="#1c1c1c" stroke-width="0.12" textLength="22.20" lengthAdjust="spacingAndGlyphs">1150</text>
<text x="57.05" y="467.78" font-size="8.7" font-weight="bold" fill="#1c1c1c" stroke="#1c1c1c" stroke-width="0.12" textLength="5.55" lengthAdjust="spacingAndGlyphs">7</text>
<text x="70.00" y="467.78" font-size="8.7" font-weight="bold" fill="#1c1c1c" stroke="#1c1c1c" stroke-width="0.12" textLength="9.65" lengthAdjust="spacingAndGlyphs">8L</text>
<text x="100.30" y="467.78" font-size="8.7" font-weight="bold" fill="#1c1c1c" stroke="#1c1c1c" stroke-width="0.12" textLength="10.85" lengthAdjust="spacingAndGlyphs">8R</text>
<text x="148.75" y="467.78" font-size="8.7" font-weight="bold" fill="#1c1c1c" stroke="#1c1c1c" stroke-width="0.12" textLength="5.55" lengthAdjust="spacingAndGlyphs">1</text>
<text x="175.70" y="467.78" font-size="8.7" font-weight="bold" fill="#1c1c1c" stroke="#1c1c1c" stroke-width="0.12" textLength="11.10" lengthAdjust="spacingAndGlyphs">18</text>
<text x="194.40" y="467.78" font-size="8.7" font-weight="bold" fill="#1c1c1c" stroke="#1c1c1c" stroke-width="0.12" textLength="5.40" lengthAdjust="spacingAndGlyphs">B</text>
<text x="249.90" y="467.78" font-size="8.7" font-weight="bold" fill="#1c1c1c" stroke="#1c1c1c" stroke-width="0.12" textLength="11.10" lengthAdjust="spacingAndGlyphs">25</text>
<text x="272.25" y="467.78" font-size="8.7" font-weight="bold" fill="#1c1c1c" stroke="#1c1c1c" stroke-width="0.12" textLength="19.35" lengthAdjust="spacingAndGlyphs">15.9</text>
<text x="298.15" y="467.78" font-size="8.7" font-weight="bold" fill="#1c1c1c" stroke="#1c1c1c" stroke-width="0.12" textLength="19.35" lengthAdjust="spacingAndGlyphs">13.4</text>
<text x="330.20" y="467.78" font-size="8.7" font-weight="bold" fill="#1c1c1c" stroke="#1c1c1c" stroke-width="0.12" textLength="17.20" lengthAdjust="spacingAndGlyphs">-2.5</text>
<text x="358.20" y="467.78" font-size="8.7" font-weight="bold" fill="#1c1c1c" stroke="#1c1c1c" stroke-width="0.12" textLength="22.20" lengthAdjust="spacingAndGlyphs">1250</text>
<text x="57.05" y="480.46" font-size="8.7" font-weight="bold" fill="#1c1c1c" stroke="#1c1c1c" stroke-width="0.12" textLength="5.55" lengthAdjust="spacingAndGlyphs">8</text>
<text x="70.00" y="480.46" font-size="8.7" font-weight="bold" fill="#1c1c1c" stroke="#1c1c1c" stroke-width="0.12" textLength="9.65" lengthAdjust="spacingAndGlyphs">7L</text>
<text x="100.30" y="480.46" font-size="8.7" font-weight="bold" fill="#1c1c1c" stroke="#1c1c1c" stroke-width="0.12" textLength="10.85" lengthAdjust="spacingAndGlyphs">7R</text>
<text x="148.75" y="480.46" font-size="8.7" font-weight="bold" fill="#1c1c1c" stroke="#1c1c1c" stroke-width="0.12" textLength="5.55" lengthAdjust="spacingAndGlyphs">1</text>
<text x="175.70" y="480.46" font-size="8.7" font-weight="bold" fill="#1c1c1c" stroke="#1c1c1c" stroke-width="0.12" textLength="11.10" lengthAdjust="spacingAndGlyphs">18</text>
<text x="194.40" y="480.46" font-size="8.7" font-weight="bold" fill="#1c1c1c" stroke="#1c1c1c" stroke-width="0.12" textLength="5.40" lengthAdjust="spacingAndGlyphs">B</text>
<text x="249.90" y="480.46" font-size="8.7" font-weight="bold" fill="#1c1c1c" stroke="#1c1c1c" stroke-width="0.12" textLength="11.10" lengthAdjust="spacingAndGlyphs">27</text>
<text x="272.25" y="480.46" font-size="8.7" font-weight="bold" fill="#1c1c1c" stroke="#1c1c1c" stroke-width="0.12" textLength="19.35" lengthAdjust="spacingAndGlyphs">13.4</text>
<text x="298.15" y="480.46" font-size="8.7" font-weight="bold" fill="#1c1c1c" stroke="#1c1c1c" stroke-width="0.12" textLength="19.35" lengthAdjust="spacingAndGlyphs">10.9</text>
<text x="330.20" y="480.46" font-size="8.7" font-weight="bold" fill="#1c1c1c" stroke="#1c1c1c" stroke-width="0.12" textLength="17.20" lengthAdjust="spacingAndGlyphs">-2.5</text>
<text x="358.20" y="480.46" font-size="8.7" font-weight="bold" fill="#1c1c1c" stroke="#1c1c1c" stroke-width="0.12" textLength="22.20" lengthAdjust="spacingAndGlyphs">1350</text>
<text x="57.05" y="493.14" font-size="8.7" font-weight="bold" fill="#1c1c1c" stroke="#1c1c1c" stroke-width="0.12" textLength="5.55" lengthAdjust="spacingAndGlyphs">9</text>
<text x="70.00" y="493.14" font-size="8.7" font-weight="bold" fill="#1c1c1c" stroke="#1c1c1c" stroke-width="0.12" textLength="9.65" lengthAdjust="spacingAndGlyphs">4L</text>
<text x="100.30" y="493.14" font-size="8.7" font-weight="bold" fill="#1c1c1c" stroke="#1c1c1c" stroke-width="0.12" textLength="10.85" lengthAdjust="spacingAndGlyphs">4R</text>
<text x="148.75" y="493.14" font-size="8.7" font-weight="bold" fill="#1c1c1c" stroke="#1c1c1c" stroke-width="0.12" textLength="5.55" lengthAdjust="spacingAndGlyphs">1</text>
<text x="175.70" y="493.14" font-size="8.7" font-weight="bold" fill="#1c1c1c" stroke="#1c1c1c" stroke-width="0.12" textLength="11.10" lengthAdjust="spacingAndGlyphs">18</text>
<text x="194.40" y="493.14" font-size="8.7" font-weight="bold" fill="#1c1c1c" stroke="#1c1c1c" stroke-width="0.12" textLength="5.40" lengthAdjust="spacingAndGlyphs">B</text>
<text x="249.90" y="493.14" font-size="8.7" font-weight="bold" fill="#1c1c1c" stroke="#1c1c1c" stroke-width="0.12" textLength="11.10" lengthAdjust="spacingAndGlyphs">33</text>
<text x="272.25" y="493.14" font-size="8.7" font-weight="bold" fill="#1c1c1c" stroke="#1c1c1c" stroke-width="0.12" textLength="19.35" lengthAdjust="spacingAndGlyphs">10.9</text>
<text x="303.70" y="493.14" font-size="8.7" font-weight="bold" fill="#1c1c1c" stroke="#1c1c1c" stroke-width="0.12" textLength="13.80" lengthAdjust="spacingAndGlyphs">8.4</text>
<text x="330.20" y="493.14" font-size="8.7" font-weight="bold" fill="#1c1c1c" stroke="#1c1c1c" stroke-width="0.12" textLength="17.20" lengthAdjust="spacingAndGlyphs">-2.5</text>
<text x="358.20" y="493.14" font-size="8.7" font-weight="bold" fill="#1c1c1c" stroke="#1c1c1c" stroke-width="0.12" textLength="22.20" lengthAdjust="spacingAndGlyphs">1650</text>
<text x="53.80" y="505.82" font-size="8.7" font-weight="bold" fill="#1c1c1c" stroke="#1c1c1c" stroke-width="0.12" textLength="11.10" lengthAdjust="spacingAndGlyphs">10</text>
<text x="70.00" y="505.82" font-size="8.7" font-weight="bold" fill="#1c1c1c" stroke="#1c1c1c" stroke-width="0.12" textLength="9.65" lengthAdjust="spacingAndGlyphs">4L</text>
<text x="100.30" y="505.82" font-size="8.7" font-weight="bold" fill="#1c1c1c" stroke="#1c1c1c" stroke-width="0.12" textLength="10.85" lengthAdjust="spacingAndGlyphs">4R</text>
<text x="148.75" y="505.82" font-size="8.7" font-weight="bold" fill="#1c1c1c" stroke="#1c1c1c" stroke-width="0.12" textLength="5.55" lengthAdjust="spacingAndGlyphs">0</text>
<text x="175.70" y="505.82" font-size="8.7" font-weight="bold" fill="#1c1c1c" stroke="#1c1c1c" stroke-width="0.12" textLength="11.10" lengthAdjust="spacingAndGlyphs">14</text>
<text x="194.40" y="505.82" font-size="8.7" font-weight="bold" fill="#1c1c1c" stroke="#1c1c1c" stroke-width="0.12" textLength="5.40" lengthAdjust="spacingAndGlyphs">B</text>
<text x="255.45" y="505.82" font-size="8.7" font-weight="bold" fill="#1c1c1c" stroke="#1c1c1c" stroke-width="0.12" textLength="5.55" lengthAdjust="spacingAndGlyphs">0</text>
<text x="277.80" y="505.82" font-size="8.7" font-weight="bold" fill="#1c1c1c" stroke="#1c1c1c" stroke-width="0.12" textLength="13.80" lengthAdjust="spacingAndGlyphs">8.4</text>
<text x="303.70" y="505.82" font-size="8.7" font-weight="bold" fill="#1c1c1c" stroke="#1c1c1c" stroke-width="0.12" textLength="13.80" lengthAdjust="spacingAndGlyphs">0.0</text>
<text x="330.20" y="505.82" font-size="8.7" font-weight="bold" fill="#1c1c1c" stroke="#1c1c1c" stroke-width="0.12" textLength="17.20" lengthAdjust="spacingAndGlyphs">-8.4</text>
<text x="374.85" y="505.82" font-size="8.7" font-weight="bold" fill="#1c1c1c" stroke="#1c1c1c" stroke-width="0.12" textLength="5.55" lengthAdjust="spacingAndGlyphs">0</text>
<text x="50" y="604.1" font-size="12.3" fill="#111" stroke="#111" stroke-width="0.25" textLength="131.1" lengthAdjust="spacingAndGlyphs">Cleaner Ratio Main Mix</text>
<text x="288.5" y="604.1" font-size="12.3" fill="#111" stroke="#111" stroke-width="0.25" textLength="16.4" lengthAdjust="spacingAndGlyphs">NA</text>
<text x="344.5" y="604.1" font-size="12.3" fill="#111" stroke="#111" stroke-width="0.25" textLength="46" lengthAdjust="spacingAndGlyphs">Forward</text>
<text x="50" y="622.1" font-size="12.3" fill="#111" stroke="#111" stroke-width="0.25" textLength="153" lengthAdjust="spacingAndGlyphs">Cleaner Ratio Back End Mix</text>
<text x="288.5" y="622.1" font-size="12.3" fill="#111" stroke="#111" stroke-width="0.25" textLength="16.4" lengthAdjust="spacingAndGlyphs">NA</text>
<text x="344.5" y="622.1" font-size="12.3" fill="#111" stroke="#111" stroke-width="0.25" textLength="43.8" lengthAdjust="spacingAndGlyphs">Reverse</text>
<text x="50" y="640.2" font-size="12.3" fill="#111" stroke="#111" stroke-width="0.25" textLength="180.1" lengthAdjust="spacingAndGlyphs">Cleaner Ratio Back End Distance</text>
<text x="288.5" y="640.2" font-size="12.3" fill="#111" stroke="#111" stroke-width="0.25" textLength="16.4" lengthAdjust="spacingAndGlyphs">NA</text>
<text x="344.5" y="640.2" font-size="12.3" fill="#111" stroke="#111" stroke-width="0.25" textLength="56.6" lengthAdjust="spacingAndGlyphs">Combined</text>
<text x="50" y="658.8" font-size="12.3" fill="#111" stroke="#111" stroke-width="0.25" textLength="270.6" lengthAdjust="spacingAndGlyphs">Buffer RPM: 4 = 700 | 3 = 500 | 2 = 200| 1 = 100</text>
<rect x="425.8" y="589" width="53.6" height="18" fill="#08cbce"/>
<rect x="425.8" y="606.8" width="53.6" height="18.6" fill="#0202cc"/>
<rect x="425.8" y="625.2" width="53.6" height="19.2" fill="#020282"/>
<path d="M49.7,755.5 V664 H343.1 V755.5" fill="none" stroke="#0a0a0a" stroke-width="2.6" stroke-linejoin="miter"/>
<defs><linearGradient id="lg" x1="0" y1="0" x2="0" y2="1"><stop offset="0" stop-color="#ffffff"/><stop offset="0.12" stop-color="#ebebfc"/><stop offset="0.35" stop-color="#b6b6f6"/><stop offset="0.6" stop-color="#7676f3"/><stop offset="0.7" stop-color="#5e5ef0"/><stop offset="0.85" stop-color="#3c3cee"/><stop offset="1" stop-color="#2020ec"/></linearGradient><linearGradient id="ln" x1="0" y1="0" x2="0" y2="1"><stop offset="0" stop-color="#0c0c14" stop-opacity="0.8"/><stop offset="0.2" stop-color="#0a0a30" stop-opacity="0.75"/><stop offset="0.5" stop-color="#000060" stop-opacity="0.62"/><stop offset="1" stop-color="#000090" stop-opacity="0.45"/></linearGradient><linearGradient id="rv" gradientUnits="userSpaceOnUse" x1="0" y1="450" x2="0" y2="811"><stop offset="0" stop-color="#0505b2"/><stop offset="0.5" stop-color="#0606ba"/><stop offset="1" stop-color="#0808c8"/></linearGradient><linearGradient id="l2" x1="0" y1="0" x2="0" y2="1"><stop offset="0" stop-color="#000028" stop-opacity="0.36"/><stop offset="1" stop-color="#000028" stop-opacity="0.24"/></linearGradient><linearGradient id="bg" x1="0" y1="0" x2="1" y2="0"><stop offset="0" stop-color="#f3bf62"/><stop offset="0.5" stop-color="#fbd685"/><stop offset="1" stop-color="#f3bf62"/></linearGradient></defs>
<rect x="518" y="148.3" width="190" height="32" fill="#fff" stroke="#8a8a8a" stroke-width="1"/>
<rect x="518.0" y="180" width="189.74" height="631.2" fill="#fad47e"/>
<rect x="522.87" y="362.8" width="180.00" height="448.4" fill="url(#lg)"/>
<rect x="522.01" y="180" width="1.7" height="182.8" fill="#6c430e"/>
<rect x="522.21" y="362.8" width="1.32" height="448.4" fill="url(#ln)"/>
<rect x="526.88" y="180" width="1.7" height="182.8" fill="#6c430e"/>
<rect x="527.07" y="362.8" width="1.32" height="448.4" fill="url(#ln)"/>
<rect x="531.75" y="180" width="1.7" height="182.8" fill="#6c430e"/>
<rect x="531.94" y="362.8" width="1.32" height="448.4" fill="url(#ln)"/>
<rect x="536.61" y="180" width="1.7" height="182.8" fill="#6c430e"/>
<rect x="536.80" y="362.8" width="1.32" height="448.4" fill="url(#ln)"/>
<rect x="541.48" y="180" width="1.7" height="182.8" fill="#6c430e"/>
<rect x="541.67" y="362.8" width="1.32" height="448.4" fill="url(#ln)"/>
<rect x="546.34" y="180" width="1.7" height="182.8" fill="#6c430e"/>
<rect x="546.53" y="362.8" width="1.32" height="448.4" fill="url(#ln)"/>
<rect x="551.20" y="180" width="1.7" height="182.8" fill="#6c430e"/>
<rect x="551.39" y="362.8" width="1.32" height="448.4" fill="url(#ln)"/>
<rect x="556.07" y="180" width="1.7" height="182.8" fill="#6c430e"/>
<rect x="556.26" y="362.8" width="1.32" height="448.4" fill="url(#ln)"/>
<rect x="560.93" y="180" width="1.7" height="182.8" fill="#6c430e"/>
<rect x="561.12" y="362.8" width="1.32" height="448.4" fill="url(#ln)"/>
<rect x="565.80" y="180" width="1.7" height="182.8" fill="#6c430e"/>
<rect x="565.99" y="362.8" width="1.32" height="448.4" fill="url(#ln)"/>
<rect x="570.66" y="180" width="1.7" height="182.8" fill="#6c430e"/>
<rect x="570.86" y="362.8" width="1.32" height="448.4" fill="url(#ln)"/>
<rect x="575.53" y="180" width="1.7" height="182.8" fill="#6c430e"/>
<rect x="575.72" y="362.8" width="1.32" height="448.4" fill="url(#ln)"/>
<rect x="580.39" y="180" width="1.7" height="182.8" fill="#6c430e"/>
<rect x="580.59" y="362.8" width="1.32" height="448.4" fill="url(#ln)"/>
<rect x="585.26" y="180" width="1.7" height="182.8" fill="#6c430e"/>
<rect x="585.45" y="362.8" width="1.32" height="448.4" fill="url(#ln)"/>
<rect x="590.12" y="180" width="1.7" height="182.8" fill="#6c430e"/>
<rect x="590.32" y="362.8" width="1.32" height="448.4" fill="url(#ln)"/>
<rect x="594.99" y="180" width="1.7" height="182.8" fill="#6c430e"/>
<rect x="595.18" y="362.8" width="1.32" height="448.4" fill="url(#ln)"/>
<rect x="599.86" y="180" width="1.7" height="182.8" fill="#6c430e"/>
<rect x="600.05" y="362.8" width="1.32" height="448.4" fill="url(#ln)"/>
<rect x="604.72" y="180" width="1.7" height="182.8" fill="#6c430e"/>
<rect x="604.91" y="362.8" width="1.32" height="448.4" fill="url(#ln)"/>
<rect x="609.58" y="180" width="1.7" height="182.8" fill="#6c430e"/>
<rect x="609.77" y="362.8" width="1.32" height="448.4" fill="url(#ln)"/>
<rect x="614.45" y="180" width="1.7" height="182.8" fill="#6c430e"/>
<rect x="614.64" y="362.8" width="1.32" height="448.4" fill="url(#ln)"/>
<rect x="619.31" y="180" width="1.7" height="182.8" fill="#6c430e"/>
<rect x="619.50" y="362.8" width="1.32" height="448.4" fill="url(#ln)"/>
<rect x="624.18" y="180" width="1.7" height="182.8" fill="#6c430e"/>
<rect x="624.37" y="362.8" width="1.32" height="448.4" fill="url(#ln)"/>
<rect x="629.04" y="180" width="1.7" height="182.8" fill="#6c430e"/>
<rect x="629.24" y="362.8" width="1.32" height="448.4" fill="url(#ln)"/>
<rect x="633.91" y="180" width="1.7" height="182.8" fill="#6c430e"/>
<rect x="634.10" y="362.8" width="1.32" height="448.4" fill="url(#ln)"/>
<rect x="638.77" y="180" width="1.7" height="182.8" fill="#6c430e"/>
<rect x="638.97" y="362.8" width="1.32" height="448.4" fill="url(#ln)"/>
<rect x="643.64" y="180" width="1.7" height="182.8" fill="#6c430e"/>
<rect x="643.83" y="362.8" width="1.32" height="448.4" fill="url(#ln)"/>
<rect x="648.50" y="180" width="1.7" height="182.8" fill="#6c430e"/>
<rect x="648.70" y="362.8" width="1.32" height="448.4" fill="url(#ln)"/>
<rect x="653.37" y="180" width="1.7" height="182.8" fill="#6c430e"/>
<rect x="653.56" y="362.8" width="1.32" height="448.4" fill="url(#ln)"/>
<rect x="658.24" y="180" width="1.7" height="182.8" fill="#6c430e"/>
<rect x="658.43" y="362.8" width="1.32" height="448.4" fill="url(#ln)"/>
<rect x="663.10" y="180" width="1.7" height="182.8" fill="#6c430e"/>
<rect x="663.29" y="362.8" width="1.32" height="448.4" fill="url(#ln)"/>
<rect x="667.97" y="180" width="1.7" height="182.8" fill="#6c430e"/>
<rect x="668.16" y="362.8" width="1.32" height="448.4" fill="url(#ln)"/>
<rect x="672.83" y="180" width="1.7" height="182.8" fill="#6c430e"/>
<rect x="673.02" y="362.8" width="1.32" height="448.4" fill="url(#ln)"/>
<rect x="677.70" y="180" width="1.7" height="182.8" fill="#6c430e"/>
<rect x="677.89" y="362.8" width="1.32" height="448.4" fill="url(#ln)"/>
<rect x="682.56" y="180" width="1.7" height="182.8" fill="#6c430e"/>
<rect x="682.75" y="362.8" width="1.32" height="448.4" fill="url(#ln)"/>
<rect x="687.42" y="180" width="1.7" height="182.8" fill="#6c430e"/>
<rect x="687.62" y="362.8" width="1.32" height="448.4" fill="url(#ln)"/>
<rect x="692.29" y="180" width="1.7" height="182.8" fill="#6c430e"/>
<rect x="692.48" y="362.8" width="1.32" height="448.4" fill="url(#ln)"/>
<rect x="697.15" y="180" width="1.7" height="182.8" fill="#6c430e"/>
<rect x="697.35" y="362.8" width="1.32" height="448.4" fill="url(#ln)"/>
<rect x="702.02" y="180" width="1.7" height="182.8" fill="#6c430e"/>
<rect x="702.21" y="362.8" width="1.32" height="448.4" fill="url(#ln)"/>
<rect x="571.51" y="449.8" width="82.71" height="75.0" fill="url(#rv)"/>
<rect x="566.65" y="524.5" width="92.44" height="64.9" fill="url(#rv)"/>
<rect x="561.78" y="589.1" width="102.17" height="32.8" fill="url(#rv)"/>
<rect x="556.92" y="621.6" width="111.90" height="32.4" fill="url(#rv)"/>
<rect x="552.05" y="653.7" width="121.63" height="33.3" fill="url(#rv)"/>
<rect x="547.19" y="686.7" width="131.36" height="21.8" fill="url(#rv)"/>
<rect x="532.60" y="708.2" width="160.54" height="103.3" fill="url(#rv)"/>
<rect x="571.51" y="545.8" width="82.71" height="66.2" fill="#050584"/>
<rect x="566.65" y="611.7" width="92.44" height="67.1" fill="#050584"/>
<rect x="561.78" y="678.5" width="102.17" height="33.7" fill="#050584"/>
<rect x="556.92" y="712.0" width="111.90" height="33.7" fill="#050584"/>
<rect x="552.05" y="745.4" width="121.63" height="27.3" fill="#050584"/>
<rect x="547.19" y="772.3" width="131.36" height="39.2" fill="#050584"/>
<rect x="522.22" y="362.8" width="1.3" height="448.4" fill="url(#l2)"/>
<rect x="527.08" y="362.8" width="1.3" height="448.4" fill="url(#l2)"/>
<rect x="531.95" y="362.8" width="1.3" height="448.4" fill="url(#l2)"/>
<rect x="536.81" y="362.8" width="1.3" height="448.4" fill="url(#l2)"/>
<rect x="541.68" y="362.8" width="1.3" height="448.4" fill="url(#l2)"/>
<rect x="546.54" y="362.8" width="1.3" height="448.4" fill="url(#l2)"/>
<rect x="551.40" y="362.8" width="1.3" height="448.4" fill="url(#l2)"/>
<rect x="556.27" y="362.8" width="1.3" height="448.4" fill="url(#l2)"/>
<rect x="561.13" y="362.8" width="1.3" height="448.4" fill="url(#l2)"/>
<rect x="566.00" y="362.8" width="1.3" height="448.4" fill="url(#l2)"/>
<rect x="570.87" y="362.8" width="1.3" height="448.4" fill="url(#l2)"/>
<rect x="575.73" y="362.8" width="1.3" height="448.4" fill="url(#l2)"/>
<rect x="580.60" y="362.8" width="1.3" height="448.4" fill="url(#l2)"/>
<rect x="585.46" y="362.8" width="1.3" height="448.4" fill="url(#l2)"/>
<rect x="590.33" y="362.8" width="1.3" height="448.4" fill="url(#l2)"/>
<rect x="595.19" y="362.8" width="1.3" height="448.4" fill="url(#l2)"/>
<rect x="600.06" y="362.8" width="1.3" height="448.4" fill="url(#l2)"/>
<rect x="604.92" y="362.8" width="1.3" height="448.4" fill="url(#l2)"/>
<rect x="609.78" y="362.8" width="1.3" height="448.4" fill="url(#l2)"/>
<rect x="614.65" y="362.8" width="1.3" height="448.4" fill="url(#l2)"/>
<rect x="619.51" y="362.8" width="1.3" height="448.4" fill="url(#l2)"/>
<rect x="624.38" y="362.8" width="1.3" height="448.4" fill="url(#l2)"/>
<rect x="629.25" y="362.8" width="1.3" height="448.4" fill="url(#l2)"/>
<rect x="634.11" y="362.8" width="1.3" height="448.4" fill="url(#l2)"/>
<rect x="638.98" y="362.8" width="1.3" height="448.4" fill="url(#l2)"/>
<rect x="643.84" y="362.8" width="1.3" height="448.4" fill="url(#l2)"/>
<rect x="648.71" y="362.8" width="1.3" height="448.4" fill="url(#l2)"/>
<rect x="653.57" y="362.8" width="1.3" height="448.4" fill="url(#l2)"/>
<rect x="658.44" y="362.8" width="1.3" height="448.4" fill="url(#l2)"/>
<rect x="663.30" y="362.8" width="1.3" height="448.4" fill="url(#l2)"/>
<rect x="668.17" y="362.8" width="1.3" height="448.4" fill="url(#l2)"/>
<rect x="673.03" y="362.8" width="1.3" height="448.4" fill="url(#l2)"/>
<rect x="677.90" y="362.8" width="1.3" height="448.4" fill="url(#l2)"/>
<rect x="682.76" y="362.8" width="1.3" height="448.4" fill="url(#l2)"/>
<rect x="687.62" y="362.8" width="1.3" height="448.4" fill="url(#l2)"/>
<rect x="692.49" y="362.8" width="1.3" height="448.4" fill="url(#l2)"/>
<rect x="697.36" y="362.8" width="1.3" height="448.4" fill="url(#l2)"/>
<rect x="702.22" y="362.8" width="1.3" height="448.4" fill="url(#l2)"/>
<rect x="518.0" y="772.7" width="189.74" height="1.4" fill="#05050a" fill-opacity="0.88"/>
<text transform="translate(720.2,773.7) rotate(-90) scale(0.66,1)" font-size="12.4" fill="#111" stroke="#111" stroke-width="0.35" text-anchor="middle">5</text>
<rect x="518.0" y="718.8" width="189.74" height="1.4" fill="#05050a" fill-opacity="0.88"/>
<text transform="translate(720.2,719.8) rotate(-90) scale(0.66,1)" font-size="12.4" fill="#111" stroke="#111" stroke-width="0.35" text-anchor="middle">10</text>
<rect x="518.0" y="664.9" width="189.74" height="1.4" fill="#05050a" fill-opacity="0.88"/>
<text transform="translate(720.2,665.9) rotate(-90) scale(0.66,1)" font-size="12.4" fill="#111" stroke="#111" stroke-width="0.35" text-anchor="middle">15</text>
<rect x="518.0" y="611.0" width="189.74" height="1.4" fill="#05050a" fill-opacity="0.88"/>
<text transform="translate(720.2,612.0) rotate(-90) scale(0.66,1)" font-size="12.4" fill="#111" stroke="#111" stroke-width="0.35" text-anchor="middle">20</text>
<rect x="518.0" y="557.1" width="189.74" height="1.4" fill="#05050a" fill-opacity="0.88"/>
<text transform="translate(720.2,558.1) rotate(-90) scale(0.66,1)" font-size="12.4" fill="#111" stroke="#111" stroke-width="0.35" text-anchor="middle">25</text>
<rect x="518.0" y="503.2" width="189.74" height="1.4" fill="#05050a" fill-opacity="0.88"/>
<text transform="translate(720.2,504.2) rotate(-90) scale(0.66,1)" font-size="12.4" fill="#111" stroke="#111" stroke-width="0.35" text-anchor="middle">30</text>
<rect x="518.0" y="449.1" width="189.74" height="1.4" fill="#05050a" fill-opacity="0.88"/>
<text transform="translate(720.2,450.1) rotate(-90) scale(0.66,1)" font-size="12.4" fill="#111" stroke="#111" stroke-width="0.35" text-anchor="middle">35</text>
<rect x="518.0" y="395.4" width="189.74" height="1.4" fill="#05050a" fill-opacity="1"/>
<text transform="translate(720.2,396.4) rotate(-90) scale(0.66,1)" font-size="12.4" fill="#111" stroke="#111" stroke-width="0.35" text-anchor="middle">40</text>
<rect x="518.0" y="341.5" width="189.74" height="1.4" fill="#05050a" fill-opacity="1"/>
<text transform="translate(720.2,342.5) rotate(-90) scale(0.66,1)" font-size="12.4" fill="#111" stroke="#111" stroke-width="0.35" text-anchor="middle">45</text>
<rect x="518.0" y="287.6" width="189.74" height="1.4" fill="#05050a" fill-opacity="1"/>
<text transform="translate(720.2,288.6) rotate(-90) scale(0.66,1)" font-size="12.4" fill="#111" stroke="#111" stroke-width="0.35" text-anchor="middle">50</text>
<rect x="518.0" y="233.7" width="189.74" height="1.4" fill="#05050a" fill-opacity="1"/>
<text transform="translate(720.2,234.7) rotate(-90) scale(0.66,1)" font-size="12.4" fill="#111" stroke="#111" stroke-width="0.35" text-anchor="middle">55</text>
<rect x="518.0" y="179.3" width="189.74" height="1.6" fill="#2a1a08"/>
<rect x="517.4" y="180.5" width="1" height="630.7" fill="#a48a52" fill-opacity="0.85"/>
<rect x="707.34" y="180.5" width="1" height="630.7" fill="#a48a52" fill-opacity="0.85"/>
<rect x="537.56" y="180" width="4.87" height="10.2" fill="#0a0604"/>
<text transform="translate(543.5,174.6) rotate(-90) scale(0.64,1)" font-size="11" fill="#111" font-weight="bold">5</text>
<rect x="561.88" y="180" width="4.87" height="10.2" fill="#0a0604"/>
<text transform="translate(567.8,174.6) rotate(-90) scale(0.64,1)" font-size="11" fill="#111" font-weight="bold">10</text>
<rect x="586.21" y="180" width="4.87" height="10.2" fill="#0a0604"/>
<text transform="translate(592.1,174.6) rotate(-90) scale(0.64,1)" font-size="11" fill="#111" font-weight="bold">15</text>
<rect x="610.53" y="180" width="4.87" height="10.2" fill="#0a0604"/>
<text transform="translate(616.5,174.6) rotate(-90) scale(0.64,1)" font-size="11" fill="#111" font-weight="bold">20</text>
<rect x="634.86" y="180" width="4.87" height="10.2" fill="#0a0604"/>
<text transform="translate(640.8,174.6) rotate(-90) scale(0.64,1)" font-size="11" fill="#111" font-weight="bold">15</text>
<rect x="659.19" y="180" width="4.87" height="10.2" fill="#0a0604"/>
<text transform="translate(665.1,174.6) rotate(-90) scale(0.64,1)" font-size="11" fill="#111" font-weight="bold">10</text>
<rect x="683.51" y="180" width="4.87" height="10.2" fill="#0a0604"/>
<text transform="translate(689.4,174.6) rotate(-90) scale(0.64,1)" font-size="11" fill="#111" font-weight="bold">5</text>
<rect x="49.5" y="812" width="713" height="183" fill="#fff" stroke="#c2c2c2" stroke-width="1"/>
<rect x="57" y="821.6" width="698.4" height="165.4" rx="8" ry="8" fill="#fff" stroke="#bcbcbc" stroke-width="1.1"/>
<line x1="90.2" y1="838.2" x2="90.2" y2="957.0" stroke="#d8d8d8" stroke-width="0.8" stroke-dasharray="1.2,1"/>
<line x1="106.3" y1="838.2" x2="106.3" y2="957.0" stroke="#d8d8d8" stroke-width="0.8" stroke-dasharray="1.2,1"/>
<line x1="122.4" y1="838.2" x2="122.4" y2="957.0" stroke="#d8d8d8" stroke-width="0.8" stroke-dasharray="1.2,1"/>
<line x1="138.5" y1="838.2" x2="138.5" y2="957.0" stroke="#d8d8d8" stroke-width="0.8" stroke-dasharray="1.2,1"/>
<line x1="154.5" y1="838.2" x2="154.5" y2="957.0" stroke="#d8d8d8" stroke-width="0.8" stroke-dasharray="1.2,1"/>
<line x1="170.6" y1="838.2" x2="170.6" y2="957.0" stroke="#d8d8d8" stroke-width="0.8" stroke-dasharray="1.2,1"/>
<line x1="186.7" y1="838.2" x2="186.7" y2="957.0" stroke="#d8d8d8" stroke-width="0.8" stroke-dasharray="1.2,1"/>
<line x1="202.8" y1="838.2" x2="202.8" y2="957.0" stroke="#d8d8d8" stroke-width="0.8" stroke-dasharray="1.2,1"/>
<line x1="218.9" y1="838.2" x2="218.9" y2="957.0" stroke="#d8d8d8" stroke-width="0.8" stroke-dasharray="1.2,1"/>
<line x1="234.9" y1="838.2" x2="234.9" y2="957.0" stroke="#d8d8d8" stroke-width="0.8" stroke-dasharray="1.2,1"/>
<line x1="251.0" y1="838.2" x2="251.0" y2="957.0" stroke="#d8d8d8" stroke-width="0.8" stroke-dasharray="1.2,1"/>
<line x1="267.1" y1="838.2" x2="267.1" y2="957.0" stroke="#d8d8d8" stroke-width="0.8" stroke-dasharray="1.2,1"/>
<line x1="283.2" y1="838.2" x2="283.2" y2="957.0" stroke="#d8d8d8" stroke-width="0.8" stroke-dasharray="1.2,1"/>
<line x1="299.3" y1="838.2" x2="299.3" y2="957.0" stroke="#d8d8d8" stroke-width="0.8" stroke-dasharray="1.2,1"/>
<line x1="315.3" y1="838.2" x2="315.3" y2="957.0" stroke="#d8d8d8" stroke-width="0.8" stroke-dasharray="1.2,1"/>
<line x1="331.4" y1="838.2" x2="331.4" y2="957.0" stroke="#d8d8d8" stroke-width="0.8" stroke-dasharray="1.2,1"/>
<line x1="347.5" y1="838.2" x2="347.5" y2="957.0" stroke="#d8d8d8" stroke-width="0.8" stroke-dasharray="1.2,1"/>
<line x1="363.6" y1="838.2" x2="363.6" y2="957.0" stroke="#d8d8d8" stroke-width="0.8" stroke-dasharray="1.2,1"/>
<line x1="379.7" y1="838.2" x2="379.7" y2="957.0" stroke="#d8d8d8" stroke-width="0.8" stroke-dasharray="1.2,1"/>
<line x1="395.7" y1="838.2" x2="395.7" y2="957.0" stroke="#d8d8d8" stroke-width="0.8" stroke-dasharray="1.2,1"/>
<line x1="411.8" y1="838.2" x2="411.8" y2="957.0" stroke="#d8d8d8" stroke-width="0.8" stroke-dasharray="1.2,1"/>
<line x1="427.9" y1="838.2" x2="427.9" y2="957.0" stroke="#d8d8d8" stroke-width="0.8" stroke-dasharray="1.2,1"/>
<line x1="444.0" y1="838.2" x2="444.0" y2="957.0" stroke="#d8d8d8" stroke-width="0.8" stroke-dasharray="1.2,1"/>
<line x1="460.1" y1="838.2" x2="460.1" y2="957.0" stroke="#d8d8d8" stroke-width="0.8" stroke-dasharray="1.2,1"/>
<line x1="476.1" y1="838.2" x2="476.1" y2="957.0" stroke="#d8d8d8" stroke-width="0.8" stroke-dasharray="1.2,1"/>
<line x1="492.2" y1="838.2" x2="492.2" y2="957.0" stroke="#d8d8d8" stroke-width="0.8" stroke-dasharray="1.2,1"/>
<line x1="508.3" y1="838.2" x2="508.3" y2="957.0" stroke="#d8d8d8" stroke-width="0.8" stroke-dasharray="1.2,1"/>
<line x1="524.4" y1="838.2" x2="524.4" y2="957.0" stroke="#d8d8d8" stroke-width="0.8" stroke-dasharray="1.2,1"/>
<line x1="540.5" y1="838.2" x2="540.5" y2="957.0" stroke="#d8d8d8" stroke-width="0.8" stroke-dasharray="1.2,1"/>
<line x1="556.5" y1="838.2" x2="556.5" y2="957.0" stroke="#d8d8d8" stroke-width="0.8" stroke-dasharray="1.2,1"/>
<line x1="572.6" y1="838.2" x2="572.6" y2="957.0" stroke="#d8d8d8" stroke-width="0.8" stroke-dasharray="1.2,1"/>
<line x1="588.7" y1="838.2" x2="588.7" y2="957.0" stroke="#d8d8d8" stroke-width="0.8" stroke-dasharray="1.2,1"/>
<line x1="604.8" y1="838.2" x2="604.8" y2="957.0" stroke="#d8d8d8" stroke-width="0.8" stroke-dasharray="1.2,1"/>
<line x1="620.9" y1="838.2" x2="620.9" y2="957.0" stroke="#d8d8d8" stroke-width="0.8" stroke-dasharray="1.2,1"/>
<line x1="636.9" y1="838.2" x2="636.9" y2="957.0" stroke="#d8d8d8" stroke-width="0.8" stroke-dasharray="1.2,1"/>
<line x1="653.0" y1="838.2" x2="653.0" y2="957.0" stroke="#d8d8d8" stroke-width="0.8" stroke-dasharray="1.2,1"/>
<line x1="669.1" y1="838.2" x2="669.1" y2="957.0" stroke="#d8d8d8" stroke-width="0.8" stroke-dasharray="1.2,1"/>
<line x1="685.2" y1="838.2" x2="685.2" y2="957.0" stroke="#d8d8d8" stroke-width="0.8" stroke-dasharray="1.2,1"/>
<line x1="701.3" y1="838.2" x2="701.3" y2="957.0" stroke="#d8d8d8" stroke-width="0.8" stroke-dasharray="1.2,1"/>
<line x1="717.3" y1="838.2" x2="717.3" y2="957.0" stroke="#d8d8d8" stroke-width="0.8" stroke-dasharray="1.2,1"/>
<line x1="733.4" y1="838.2" x2="733.4" y2="957.0" stroke="#d8d8d8" stroke-width="0.8" stroke-dasharray="1.2,1"/>
<line x1="85.1" y1="957.0" x2="89.6" y2="957.0" stroke="#222" stroke-width="1.1"/>
<text transform="translate(82.3,959.2) scale(0.72,1)" font-size="6.6" fill="#6a6a6a" text-anchor="end">0</text>
<line x1="89.6" y1="945.1" x2="742.4" y2="945.1" stroke="#222" stroke-width="0.95" stroke-dasharray="1.8,1.0"/>
<line x1="85.1" y1="945.1" x2="89.6" y2="945.1" stroke="#222" stroke-width="1.1"/>
<text transform="translate(82.3,947.3) scale(0.72,1)" font-size="6.6" fill="#6a6a6a" text-anchor="end">150</text>
<line x1="89.6" y1="933.2" x2="742.4" y2="933.2" stroke="#222" stroke-width="0.95" stroke-dasharray="1.8,1.0"/>
<line x1="85.1" y1="933.2" x2="89.6" y2="933.2" stroke="#222" stroke-width="1.1"/>
<text transform="translate(82.3,935.4) scale(0.72,1)" font-size="6.6" fill="#6a6a6a" text-anchor="end">300</text>
<line x1="89.6" y1="921.4" x2="742.4" y2="921.4" stroke="#222" stroke-width="0.95" stroke-dasharray="1.8,1.0"/>
<line x1="85.1" y1="921.4" x2="89.6" y2="921.4" stroke="#222" stroke-width="1.1"/>
<text transform="translate(82.3,923.6) scale(0.72,1)" font-size="6.6" fill="#6a6a6a" text-anchor="end">450</text>
<line x1="89.6" y1="909.5" x2="742.4" y2="909.5" stroke="#222" stroke-width="0.95" stroke-dasharray="1.8,1.0"/>
<line x1="85.1" y1="909.5" x2="89.6" y2="909.5" stroke="#222" stroke-width="1.1"/>
<text transform="translate(82.3,911.7) scale(0.72,1)" font-size="6.6" fill="#6a6a6a" text-anchor="end">600</text>
<line x1="89.6" y1="897.6" x2="742.4" y2="897.6" stroke="#222" stroke-width="0.95" stroke-dasharray="1.8,1.0"/>
<line x1="85.1" y1="897.6" x2="89.6" y2="897.6" stroke="#222" stroke-width="1.1"/>
<text transform="translate(82.3,899.8) scale(0.72,1)" font-size="6.6" fill="#6a6a6a" text-anchor="end">750</text>
<line x1="89.6" y1="885.7" x2="742.4" y2="885.7" stroke="#222" stroke-width="0.95" stroke-dasharray="1.8,1.0"/>
<line x1="85.1" y1="885.7" x2="89.6" y2="885.7" stroke="#222" stroke-width="1.1"/>
<text transform="translate(82.3,887.9) scale(0.72,1)" font-size="6.6" fill="#6a6a6a" text-anchor="end">900</text>
<line x1="89.6" y1="873.8" x2="742.4" y2="873.8" stroke="#222" stroke-width="0.95" stroke-dasharray="1.8,1.0"/>
<line x1="85.1" y1="873.8" x2="89.6" y2="873.8" stroke="#222" stroke-width="1.1"/>
<text transform="translate(82.3,876.0) scale(0.72,1)" font-size="6.6" fill="#6a6a6a" text-anchor="end">1050</text>
<line x1="89.6" y1="862.0" x2="742.4" y2="862.0" stroke="#222" stroke-width="0.95" stroke-dasharray="1.8,1.0"/>
<line x1="85.1" y1="862.0" x2="89.6" y2="862.0" stroke="#222" stroke-width="1.1"/>
<text transform="translate(82.3,864.2) scale(0.72,1)" font-size="6.6" fill="#6a6a6a" text-anchor="end">1200</text>
<line x1="89.6" y1="850.1" x2="742.4" y2="850.1" stroke="#222" stroke-width="0.95" stroke-dasharray="1.8,1.0"/>
<line x1="85.1" y1="850.1" x2="89.6" y2="850.1" stroke="#222" stroke-width="1.1"/>
<text transform="translate(82.3,852.3) scale(0.72,1)" font-size="6.6" fill="#6a6a6a" text-anchor="end">1350</text>
<line x1="85.1" y1="838.2" x2="89.6" y2="838.2" stroke="#222" stroke-width="1.1"/>
<text transform="translate(82.3,840.4) scale(0.72,1)" font-size="6.6" fill="#6a6a6a" text-anchor="end">1500</text>
<line x1="106.3" y1="957.0" x2="106.3" y2="963.0" stroke="#222" stroke-width="1.1"/>
<text transform="translate(106.3,973.8) scale(0.7,1)" font-size="7" fill="#444" stroke="#444" stroke-width="0.2" text-anchor="middle">1</text>
<line x1="122.4" y1="957.0" x2="122.4" y2="963.0" stroke="#222" stroke-width="1.1"/>
<text transform="translate(122.4,973.8) scale(0.7,1)" font-size="7" fill="#444" stroke="#444" stroke-width="0.2" text-anchor="middle">2</text>
<line x1="138.5" y1="957.0" x2="138.5" y2="963.0" stroke="#222" stroke-width="1.1"/>
<text transform="translate(138.5,973.8) scale(0.7,1)" font-size="7" fill="#444" stroke="#444" stroke-width="0.2" text-anchor="middle">3</text>
<line x1="154.5" y1="957.0" x2="154.5" y2="963.0" stroke="#222" stroke-width="1.1"/>
<text transform="translate(154.5,973.8) scale(0.7,1)" font-size="7" fill="#444" stroke="#444" stroke-width="0.2" text-anchor="middle">4</text>
<rect x="150.6" y="949.1" width="7.9" height="4.0" fill="#0505cf" stroke="#000058" stroke-width="0.9"/>
<rect x="150.6" y="953.0" width="7.9" height="4.0" fill="#18c8ca" stroke="#0a5a66" stroke-width="0.9"/>
<line x1="170.6" y1="957.0" x2="170.6" y2="963.0" stroke="#222" stroke-width="1.1"/>
<text transform="translate(170.6,973.8) scale(0.7,1)" font-size="7" fill="#444" stroke="#444" stroke-width="0.2" text-anchor="middle">5</text>
<rect x="166.7" y="949.1" width="7.9" height="4.0" fill="#0505cf" stroke="#000058" stroke-width="0.9"/>
<rect x="166.7" y="953.0" width="7.9" height="4.0" fill="#18c8ca" stroke="#0a5a66" stroke-width="0.9"/>
<line x1="186.7" y1="957.0" x2="186.7" y2="963.0" stroke="#222" stroke-width="1.1"/>
<text transform="translate(186.7,973.8) scale(0.7,1)" font-size="7" fill="#444" stroke="#444" stroke-width="0.2" text-anchor="middle">6</text>
<rect x="182.8" y="949.1" width="7.9" height="4.0" fill="#0505cf" stroke="#000058" stroke-width="0.9"/>
<rect x="182.8" y="953.0" width="7.9" height="4.0" fill="#18c8ca" stroke="#0a5a66" stroke-width="0.9"/>
<line x1="202.8" y1="957.0" x2="202.8" y2="963.0" stroke="#222" stroke-width="1.1"/>
<text transform="translate(202.8,973.8) scale(0.7,1)" font-size="7" fill="#444" stroke="#444" stroke-width="0.2" text-anchor="middle">7</text>
<rect x="198.8" y="937.2" width="7.9" height="7.9" fill="#0505cf" stroke="#000058" stroke-width="0.9"/>
<rect x="198.8" y="945.1" width="7.9" height="11.9" fill="#18c8ca" stroke="#0a5a66" stroke-width="0.9"/>
<line x1="218.9" y1="957.0" x2="218.9" y2="963.0" stroke="#222" stroke-width="1.1"/>
<text transform="translate(218.9,973.8) scale(0.7,1)" font-size="7" fill="#444" stroke="#444" stroke-width="0.2" text-anchor="middle">8</text>
<rect x="214.9" y="929.3" width="7.9" height="11.9" fill="#0505cf" stroke="#000058" stroke-width="0.9"/>
<rect x="214.9" y="941.2" width="7.9" height="15.8" fill="#18c8ca" stroke="#0a5a66" stroke-width="0.9"/>
<line x1="234.9" y1="957.0" x2="234.9" y2="963.0" stroke="#222" stroke-width="1.1"/>
<text transform="translate(234.9,973.8) scale(0.7,1)" font-size="7" fill="#444" stroke="#444" stroke-width="0.2" text-anchor="middle">9</text>
<rect x="231.0" y="921.4" width="7.9" height="15.8" fill="#0505cf" stroke="#000058" stroke-width="0.9"/>
<rect x="231.0" y="937.2" width="7.9" height="19.8" fill="#18c8ca" stroke="#0a5a66" stroke-width="0.9"/>
<line x1="251.0" y1="957.0" x2="251.0" y2="963.0" stroke="#222" stroke-width="1.1"/>
<text transform="translate(251.0,973.8) scale(0.7,1)" font-size="7" fill="#444" stroke="#444" stroke-width="0.2" text-anchor="middle">10</text>
<rect x="247.1" y="913.4" width="7.9" height="19.8" fill="#0505cf" stroke="#000058" stroke-width="0.9"/>
<rect x="247.1" y="933.2" width="7.9" height="23.8" fill="#18c8ca" stroke="#0a5a66" stroke-width="0.9"/>
<line x1="267.1" y1="957.0" x2="267.1" y2="963.0" stroke="#222" stroke-width="1.1"/>
<text transform="translate(267.1,973.8) scale(0.7,1)" font-size="7" fill="#444" stroke="#444" stroke-width="0.2" text-anchor="middle">11</text>
<rect x="263.1" y="897.6" width="7.9" height="27.7" fill="#0505cf" stroke="#000058" stroke-width="0.9"/>
<rect x="263.1" y="925.3" width="7.9" height="31.7" fill="#18c8ca" stroke="#0a5a66" stroke-width="0.9"/>
<line x1="283.2" y1="957.0" x2="283.2" y2="963.0" stroke="#222" stroke-width="1.1"/>
<text transform="translate(283.2,973.8) scale(0.7,1)" font-size="7" fill="#444" stroke="#444" stroke-width="0.2" text-anchor="middle">12</text>
<rect x="279.2" y="881.8" width="7.9" height="35.6" fill="#0505cf" stroke="#000058" stroke-width="0.9"/>
<rect x="279.2" y="917.4" width="7.9" height="39.6" fill="#18c8ca" stroke="#0a5a66" stroke-width="0.9"/>
<line x1="299.3" y1="957.0" x2="299.3" y2="963.0" stroke="#222" stroke-width="1.1"/>
<text transform="translate(299.3,973.8) scale(0.7,1)" font-size="7" fill="#444" stroke="#444" stroke-width="0.2" text-anchor="middle">13</text>
<rect x="295.3" y="881.8" width="7.9" height="35.6" fill="#0505cf" stroke="#000058" stroke-width="0.9"/>
<rect x="295.3" y="917.4" width="7.9" height="39.6" fill="#18c8ca" stroke="#0a5a66" stroke-width="0.9"/>
<line x1="315.3" y1="957.0" x2="315.3" y2="963.0" stroke="#222" stroke-width="1.1"/>
<text transform="translate(315.3,973.8) scale(0.7,1)" font-size="7" fill="#444" stroke="#444" stroke-width="0.2" text-anchor="middle">14</text>
<rect x="311.4" y="881.8" width="7.9" height="35.6" fill="#0505cf" stroke="#000058" stroke-width="0.9"/>
<rect x="311.4" y="917.4" width="7.9" height="39.6" fill="#18c8ca" stroke="#0a5a66" stroke-width="0.9"/>
<line x1="331.4" y1="957.0" x2="331.4" y2="963.0" stroke="#222" stroke-width="1.1"/>
<text transform="translate(331.4,973.8) scale(0.7,1)" font-size="7" fill="#444" stroke="#444" stroke-width="0.2" text-anchor="middle">15</text>
<rect x="327.5" y="881.8" width="7.9" height="35.6" fill="#0505cf" stroke="#000058" stroke-width="0.9"/>
<rect x="327.5" y="917.4" width="7.9" height="39.6" fill="#18c8ca" stroke="#0a5a66" stroke-width="0.9"/>
<line x1="347.5" y1="957.0" x2="347.5" y2="963.0" stroke="#222" stroke-width="1.1"/>
<text transform="translate(347.5,973.8) scale(0.7,1)" font-size="7" fill="#444" stroke="#444" stroke-width="0.2" text-anchor="middle">16</text>
<rect x="343.6" y="881.8" width="7.9" height="35.6" fill="#0505cf" stroke="#000058" stroke-width="0.9"/>
<rect x="343.6" y="917.4" width="7.9" height="39.6" fill="#18c8ca" stroke="#0a5a66" stroke-width="0.9"/>
<line x1="363.6" y1="957.0" x2="363.6" y2="963.0" stroke="#222" stroke-width="1.1"/>
<text transform="translate(363.6,973.8) scale(0.7,1)" font-size="7" fill="#444" stroke="#444" stroke-width="0.2" text-anchor="middle">17</text>
<rect x="359.6" y="881.8" width="7.9" height="35.6" fill="#0505cf" stroke="#000058" stroke-width="0.9"/>
<rect x="359.6" y="917.4" width="7.9" height="39.6" fill="#18c8ca" stroke="#0a5a66" stroke-width="0.9"/>
<line x1="379.7" y1="957.0" x2="379.7" y2="963.0" stroke="#222" stroke-width="1.1"/>
<text transform="translate(379.7,973.8) scale(0.7,1)" font-size="7" fill="#444" stroke="#444" stroke-width="0.2" text-anchor="middle">18</text>
<rect x="375.7" y="881.8" width="7.9" height="35.6" fill="#0505cf" stroke="#000058" stroke-width="0.9"/>
<rect x="375.7" y="917.4" width="7.9" height="39.6" fill="#18c8ca" stroke="#0a5a66" stroke-width="0.9"/>
<line x1="395.7" y1="957.0" x2="395.7" y2="963.0" stroke="#222" stroke-width="1.1"/>
<text transform="translate(395.7,973.8) scale(0.7,1)" font-size="7" fill="#444" stroke="#444" stroke-width="0.2" text-anchor="middle">19</text>
<rect x="391.8" y="881.8" width="7.9" height="35.6" fill="#0505cf" stroke="#000058" stroke-width="0.9"/>
<rect x="391.8" y="917.4" width="7.9" height="39.6" fill="#18c8ca" stroke="#0a5a66" stroke-width="0.9"/>
<line x1="411.8" y1="957.0" x2="411.8" y2="963.0" stroke="#222" stroke-width="1.1"/>
<text transform="translate(411.8,973.8) scale(0.7,1)" font-size="7" fill="#444" stroke="#444" stroke-width="0.2" text-anchor="middle">20</text>
<rect x="407.9" y="881.8" width="7.9" height="35.6" fill="#0505cf" stroke="#000058" stroke-width="0.9"/>
<rect x="407.9" y="917.4" width="7.9" height="39.6" fill="#18c8ca" stroke="#0a5a66" stroke-width="0.9"/>
<line x1="427.9" y1="957.0" x2="427.9" y2="963.0" stroke="#222" stroke-width="1.1"/>
<text transform="translate(427.9,973.8) scale(0.7,1)" font-size="7" fill="#444" stroke="#444" stroke-width="0.2" text-anchor="middle">19</text>
<rect x="423.9" y="881.8" width="7.9" height="35.6" fill="#0505cf" stroke="#000058" stroke-width="0.9"/>
<rect x="423.9" y="917.4" width="7.9" height="39.6" fill="#18c8ca" stroke="#0a5a66" stroke-width="0.9"/>
<line x1="444.0" y1="957.0" x2="444.0" y2="963.0" stroke="#222" stroke-width="1.1"/>
<text transform="translate(444.0,973.8) scale(0.7,1)" font-size="7" fill="#444" stroke="#444" stroke-width="0.2" text-anchor="middle">18</text>
<rect x="440.0" y="881.8" width="7.9" height="35.6" fill="#0505cf" stroke="#000058" stroke-width="0.9"/>
<rect x="440.0" y="917.4" width="7.9" height="39.6" fill="#18c8ca" stroke="#0a5a66" stroke-width="0.9"/>
<line x1="460.1" y1="957.0" x2="460.1" y2="963.0" stroke="#222" stroke-width="1.1"/>
<text transform="translate(460.1,973.8) scale(0.7,1)" font-size="7" fill="#444" stroke="#444" stroke-width="0.2" text-anchor="middle">17</text>
<rect x="456.1" y="881.8" width="7.9" height="35.6" fill="#0505cf" stroke="#000058" stroke-width="0.9"/>
<rect x="456.1" y="917.4" width="7.9" height="39.6" fill="#18c8ca" stroke="#0a5a66" stroke-width="0.9"/>
<line x1="476.1" y1="957.0" x2="476.1" y2="963.0" stroke="#222" stroke-width="1.1"/>
<text transform="translate(476.1,973.8) scale(0.7,1)" font-size="7" fill="#444" stroke="#444" stroke-width="0.2" text-anchor="middle">16</text>
<rect x="472.2" y="881.8" width="7.9" height="35.6" fill="#0505cf" stroke="#000058" stroke-width="0.9"/>
<rect x="472.2" y="917.4" width="7.9" height="39.6" fill="#18c8ca" stroke="#0a5a66" stroke-width="0.9"/>
<line x1="492.2" y1="957.0" x2="492.2" y2="963.0" stroke="#222" stroke-width="1.1"/>
<text transform="translate(492.2,973.8) scale(0.7,1)" font-size="7" fill="#444" stroke="#444" stroke-width="0.2" text-anchor="middle">15</text>
<rect x="488.3" y="881.8" width="7.9" height="35.6" fill="#0505cf" stroke="#000058" stroke-width="0.9"/>
<rect x="488.3" y="917.4" width="7.9" height="39.6" fill="#18c8ca" stroke="#0a5a66" stroke-width="0.9"/>
<line x1="508.3" y1="957.0" x2="508.3" y2="963.0" stroke="#222" stroke-width="1.1"/>
<text transform="translate(508.3,973.8) scale(0.7,1)" font-size="7" fill="#444" stroke="#444" stroke-width="0.2" text-anchor="middle">14</text>
<rect x="504.3" y="881.8" width="7.9" height="35.6" fill="#0505cf" stroke="#000058" stroke-width="0.9"/>
<rect x="504.3" y="917.4" width="7.9" height="39.6" fill="#18c8ca" stroke="#0a5a66" stroke-width="0.9"/>
<line x1="524.4" y1="957.0" x2="524.4" y2="963.0" stroke="#222" stroke-width="1.1"/>
<text transform="translate(524.4,973.8) scale(0.7,1)" font-size="7" fill="#444" stroke="#444" stroke-width="0.2" text-anchor="middle">13</text>
<rect x="520.4" y="881.8" width="7.9" height="35.6" fill="#0505cf" stroke="#000058" stroke-width="0.9"/>
<rect x="520.4" y="917.4" width="7.9" height="39.6" fill="#18c8ca" stroke="#0a5a66" stroke-width="0.9"/>
<line x1="540.5" y1="957.0" x2="540.5" y2="963.0" stroke="#222" stroke-width="1.1"/>
<text transform="translate(540.5,973.8) scale(0.7,1)" font-size="7" fill="#444" stroke="#444" stroke-width="0.2" text-anchor="middle">12</text>
<rect x="536.5" y="881.8" width="7.9" height="35.6" fill="#0505cf" stroke="#000058" stroke-width="0.9"/>
<rect x="536.5" y="917.4" width="7.9" height="39.6" fill="#18c8ca" stroke="#0a5a66" stroke-width="0.9"/>
<line x1="556.5" y1="957.0" x2="556.5" y2="963.0" stroke="#222" stroke-width="1.1"/>
<text transform="translate(556.5,973.8) scale(0.7,1)" font-size="7" fill="#444" stroke="#444" stroke-width="0.2" text-anchor="middle">11</text>
<rect x="552.6" y="897.6" width="7.9" height="27.7" fill="#0505cf" stroke="#000058" stroke-width="0.9"/>
<rect x="552.6" y="925.3" width="7.9" height="31.7" fill="#18c8ca" stroke="#0a5a66" stroke-width="0.9"/>
<line x1="572.6" y1="957.0" x2="572.6" y2="963.0" stroke="#222" stroke-width="1.1"/>
<text transform="translate(572.6,973.8) scale(0.7,1)" font-size="7" fill="#444" stroke="#444" stroke-width="0.2" text-anchor="middle">10</text>
<rect x="568.7" y="913.4" width="7.9" height="19.8" fill="#0505cf" stroke="#000058" stroke-width="0.9"/>
<rect x="568.7" y="933.2" width="7.9" height="23.8" fill="#18c8ca" stroke="#0a5a66" stroke-width="0.9"/>
<line x1="588.7" y1="957.0" x2="588.7" y2="963.0" stroke="#222" stroke-width="1.1"/>
<text transform="translate(588.7,973.8) scale(0.7,1)" font-size="7" fill="#444" stroke="#444" stroke-width="0.2" text-anchor="middle">9</text>
<rect x="584.7" y="921.4" width="7.9" height="15.8" fill="#0505cf" stroke="#000058" stroke-width="0.9"/>
<rect x="584.7" y="937.2" width="7.9" height="19.8" fill="#18c8ca" stroke="#0a5a66" stroke-width="0.9"/>
<line x1="604.8" y1="957.0" x2="604.8" y2="963.0" stroke="#222" stroke-width="1.1"/>
<text transform="translate(604.8,973.8) scale(0.7,1)" font-size="7" fill="#444" stroke="#444" stroke-width="0.2" text-anchor="middle">8</text>
<rect x="600.8" y="929.3" width="7.9" height="11.9" fill="#0505cf" stroke="#000058" stroke-width="0.9"/>
<rect x="600.8" y="941.2" width="7.9" height="15.8" fill="#18c8ca" stroke="#0a5a66" stroke-width="0.9"/>
<line x1="620.9" y1="957.0" x2="620.9" y2="963.0" stroke="#222" stroke-width="1.1"/>
<text transform="translate(620.9,973.8) scale(0.7,1)" font-size="7" fill="#444" stroke="#444" stroke-width="0.2" text-anchor="middle">7</text>
<rect x="616.9" y="937.2" width="7.9" height="7.9" fill="#0505cf" stroke="#000058" stroke-width="0.9"/>
<rect x="616.9" y="945.1" width="7.9" height="11.9" fill="#18c8ca" stroke="#0a5a66" stroke-width="0.9"/>
<line x1="636.9" y1="957.0" x2="636.9" y2="963.0" stroke="#222" stroke-width="1.1"/>
<text transform="translate(636.9,973.8) scale(0.7,1)" font-size="7" fill="#444" stroke="#444" stroke-width="0.2" text-anchor="middle">6</text>
<rect x="633.0" y="949.1" width="7.9" height="4.0" fill="#0505cf" stroke="#000058" stroke-width="0.9"/>
<rect x="633.0" y="953.0" width="7.9" height="4.0" fill="#18c8ca" stroke="#0a5a66" stroke-width="0.9"/>
<line x1="653.0" y1="957.0" x2="653.0" y2="963.0" stroke="#222" stroke-width="1.1"/>
<text transform="translate(653.0,973.8) scale(0.7,1)" font-size="7" fill="#444" stroke="#444" stroke-width="0.2" text-anchor="middle">5</text>
<rect x="649.1" y="949.1" width="7.9" height="4.0" fill="#0505cf" stroke="#000058" stroke-width="0.9"/>
<rect x="649.1" y="953.0" width="7.9" height="4.0" fill="#18c8ca" stroke="#0a5a66" stroke-width="0.9"/>
<line x1="669.1" y1="957.0" x2="669.1" y2="963.0" stroke="#222" stroke-width="1.1"/>
<text transform="translate(669.1,973.8) scale(0.7,1)" font-size="7" fill="#444" stroke="#444" stroke-width="0.2" text-anchor="middle">4</text>
<rect x="665.1" y="949.1" width="7.9" height="4.0" fill="#0505cf" stroke="#000058" stroke-width="0.9"/>
<rect x="665.1" y="953.0" width="7.9" height="4.0" fill="#18c8ca" stroke="#0a5a66" stroke-width="0.9"/>
<line x1="685.2" y1="957.0" x2="685.2" y2="963.0" stroke="#222" stroke-width="1.1"/>
<text transform="translate(685.2,973.8) scale(0.7,1)" font-size="7" fill="#444" stroke="#444" stroke-width="0.2" text-anchor="middle">3</text>
<line x1="701.3" y1="957.0" x2="701.3" y2="963.0" stroke="#222" stroke-width="1.1"/>
<text transform="translate(701.3,973.8) scale(0.7,1)" font-size="7" fill="#444" stroke="#444" stroke-width="0.2" text-anchor="middle">2</text>
<line x1="717.3" y1="957.0" x2="717.3" y2="963.0" stroke="#222" stroke-width="1.1"/>
<text transform="translate(717.3,973.8) scale(0.7,1)" font-size="7" fill="#444" stroke="#444" stroke-width="0.2" text-anchor="middle">1</text>
<line x1="89.6" y1="838.2" x2="742.4" y2="838.2" stroke="#111" stroke-width="1.2"/>
<line x1="89.6" y1="837.6" x2="89.6" y2="962.0" stroke="#2a2a2a" stroke-width="1.1"/>
<line x1="742.4" y1="837.6" x2="742.4" y2="962.0" stroke="#2a2a2a" stroke-width="1.1"/>
<line x1="85.1" y1="957.0" x2="742.4" y2="957.0" stroke="#222" stroke-width="1.3"/>
<rect x="50" y="755.5" width="458" height="59.299999999999955" fill="#fff" stroke="#9a9a9a" stroke-width="1"/>
<rect x="50" y="777" width="458" height="0.8" fill="#b9c3c9"/>
<rect x="118.6" y="755.5" width="0.8" height="59.299999999999955" fill="#c5ced3"/>
<rect x="179.2" y="755.5" width="0.8" height="59.299999999999955" fill="#c5ced3"/>
<rect x="245.4" y="755.5" width="0.8" height="59.299999999999955" fill="#c5ced3"/>
<rect x="311.70000000000005" y="755.5" width="0.8" height="59.299999999999955" fill="#c5ced3"/>
<rect x="380.40000000000003" y="755.5" width="0.8" height="59.299999999999955" fill="#c5ced3"/>
<rect x="446.70000000000005" y="755.5" width="0.8" height="59.299999999999955" fill="#c5ced3"/>
<text transform="translate(84.50,771.00) scale(0.78,1)" font-size="7.6" font-weight="normal" fill="#444" text-anchor="middle">Item</text>
<text x="51.2" y="790.3" font-size="10.2" fill="#222" textLength="40.5" lengthAdjust="spacingAndGlyphs">Description</text>
<text x="51.2" y="810.6" font-size="10.2" fill="#222" textLength="58.3" lengthAdjust="spacingAndGlyphs">Track Zone Ratio</text>
<text transform="translate(149.30,771.00) scale(0.78,1)" font-size="7.6" font-weight="normal" fill="#444" text-anchor="middle">3L-7L:18L-18R</text>
<text x="121.6" y="790.3" font-size="10.2" fill="#262626" textLength="53.1" lengthAdjust="spacingAndGlyphs">Outside:Middle</text>
<text transform="translate(149.30,810.60) scale(0.8,1)" font-size="10.2" font-weight="normal" fill="#262626" text-anchor="middle">8.64</text>
<text transform="translate(212.70,771.00) scale(0.78,1)" font-size="7.6" font-weight="normal" fill="#444" text-anchor="middle">8L-12L:18L-18R</text>
<text x="183.2" y="790.3" font-size="10.2" fill="#262626" textLength="51.8" lengthAdjust="spacingAndGlyphs">Middle:Middle</text>
<text transform="translate(212.70,810.60) scale(0.8,1)" font-size="10.2" font-weight="normal" fill="#262626" text-anchor="middle">1.56</text>
<text transform="translate(278.95,771.00) scale(0.78,1)" font-size="7.6" font-weight="normal" fill="#444" text-anchor="middle">13L-17L:18L-18R</text>
<text x="250.2" y="790.3" font-size="10.2" fill="#262626" textLength="44.5" lengthAdjust="spacingAndGlyphs">Inside:Middle</text>
<text transform="translate(278.95,810.60) scale(0.8,1)" font-size="10.2" font-weight="normal" fill="#262626" text-anchor="middle">1</text>
<text transform="translate(346.45,771.00) scale(0.78,1)" font-size="7.6" font-weight="normal" fill="#444" text-anchor="middle">18L-18R:17R-13R</text>
<text x="315.3" y="790.3" font-size="10.2" fill="#262626" textLength="49.5" lengthAdjust="spacingAndGlyphs">Middle: Inside</text>
<text transform="translate(346.45,810.60) scale(0.8,1)" font-size="10.2" font-weight="normal" fill="#262626" text-anchor="middle">1</text>
<text transform="translate(413.95,771.00) scale(0.78,1)" font-size="7.6" font-weight="normal" fill="#444" text-anchor="middle">18L-18R:12R-8R</text>
<text x="382.7" y="790.3" font-size="10.2" fill="#262626" textLength="52.5" lengthAdjust="spacingAndGlyphs">Middle:Middle</text>
<text transform="translate(413.95,810.60) scale(0.8,1)" font-size="10.2" font-weight="normal" fill="#262626" text-anchor="middle">1.56</text>
<text transform="translate(477.55,771.00) scale(0.78,1)" font-size="7.6" font-weight="normal" fill="#444" text-anchor="middle">18L-18R:7R-3R</text>
<text x="449.1" y="790.3" font-size="10.2" fill="#262626" textLength="53.4" lengthAdjust="spacingAndGlyphs">Middle:Outside</text>
<text transform="translate(477.55,810.60) scale(0.8,1)" font-size="10.2" font-weight="normal" fill="#262626" text-anchor="middle">8.64</text>
<rect x="50" y="777.2" width="69" height="19.5" fill="none" stroke="#111" stroke-width="1.8"/>
</svg>
</body></html>
